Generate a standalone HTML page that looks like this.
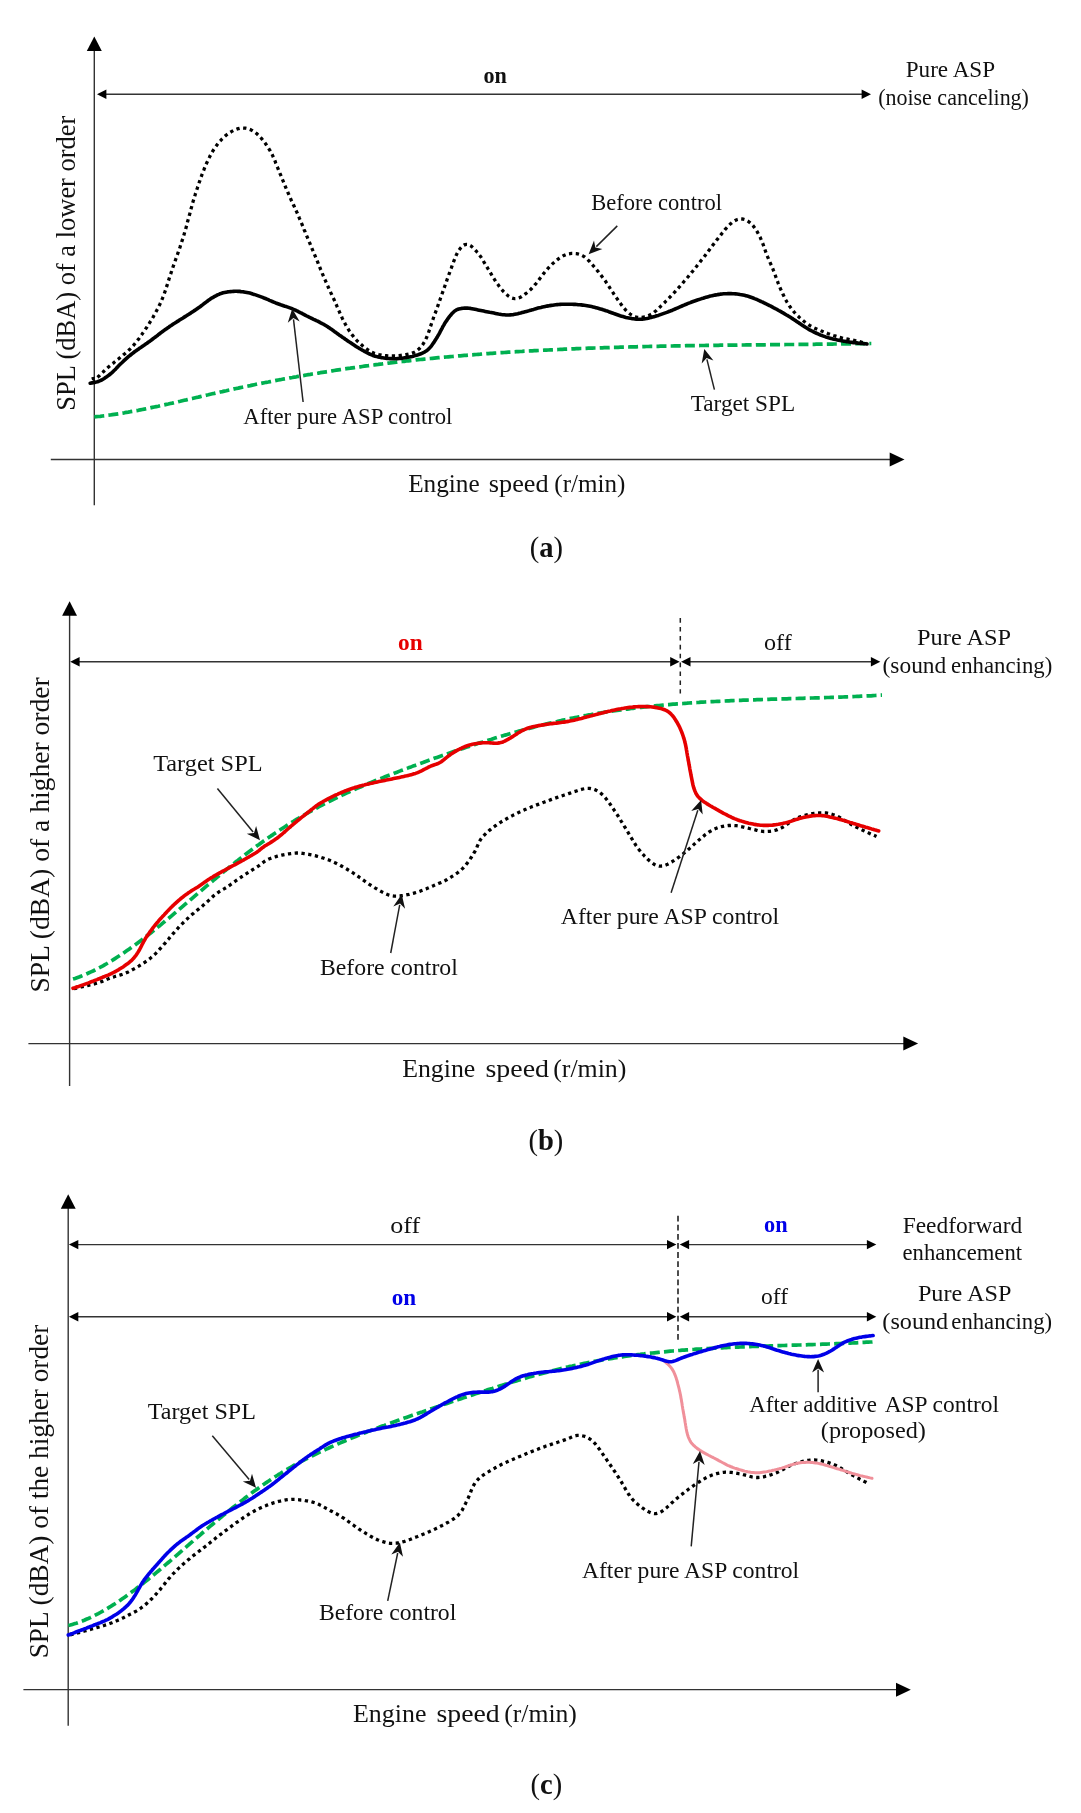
<!DOCTYPE html>
<html><head><meta charset="utf-8"><title>Figure</title>
<style>
html,body{margin:0;padding:0;background:#fff;}
body{width:1081px;height:1813px;overflow:hidden;}
#fig{will-change:transform;}
svg{display:block;font-family:"Liberation Serif", serif;}
</style></head><body>
<div id="fig"><svg width="1081" height="1813" viewBox="0 0 1081 1813">
<rect width="1081" height="1813" fill="#fff"/>
<line x1="94.3" y1="48.0" x2="94.3" y2="505.3" stroke="#333" stroke-width="1.40" />
<polygon points="94.3,36.4 86.8,51.0 101.8,51.0" fill="#000"/>
<line x1="50.8" y1="459.5" x2="892.0" y2="459.5" stroke="#333" stroke-width="1.40" />
<polygon points="904.5,459.5 889.7,452.5 889.7,466.5" fill="#000"/>
<line x1="100.0" y1="94.2" x2="868.0" y2="94.2" stroke="#333" stroke-width="1.40" />
<polygon points="97.0,94.2 106.4,89.5 106.4,98.9" fill="#000"/>
<polygon points="871.0,94.2 861.6,89.5 861.6,98.9" fill="#000"/>
<text x="483.56" y="82.90" font-size="22.30" fill="#111" font-weight="bold" textLength="23.38" lengthAdjust="spacingAndGlyphs">on</text>
<text x="905.73" y="77.40" font-size="22.30" fill="#111" font-weight="normal" textLength="89.40" lengthAdjust="spacingAndGlyphs">Pure ASP</text>
<text x="878.13" y="104.50" font-size="22.30" fill="#111" font-weight="normal" textLength="150.83" lengthAdjust="spacingAndGlyphs">(noise canceling)</text>
<g transform="translate(75.40 408.90) rotate(-90)"><text x="-1.77" y="0" font-size="26.50" fill="#111" textLength="295.01" lengthAdjust="spacingAndGlyphs">SPL (dBA) of a lower order</text></g>
<text x="408.17" y="492.20" font-size="25.30" fill="#111" font-weight="normal" textLength="71.50" lengthAdjust="spacingAndGlyphs">Engine</text>
<text x="488.82" y="492.20" font-size="25.30" fill="#111" font-weight="normal" textLength="59.79" lengthAdjust="spacingAndGlyphs">speed</text>
<text x="554.30" y="492.20" font-size="25.30" fill="#111" font-weight="normal" textLength="70.99" lengthAdjust="spacingAndGlyphs">(r/min)</text>
<path d="M94.3 416.9 L96.3 416.7 L98.3 416.5 L100.3 416.3 L102.3 416.0 L104.3 415.8 L106.3 415.5 L108.3 415.2 L110.3 415.0 L112.3 414.7 L114.3 414.4 L116.3 414.1 L118.3 413.8 L120.3 413.4 L122.3 413.1 L124.3 412.8 L126.3 412.4 L128.3 412.1 L130.3 411.7 L132.3 411.4 L134.3 411.0 L136.3 410.6 L138.3 410.3 L140.3 409.9 L142.3 409.5 L144.3 409.1 L146.3 408.7 L148.3 408.3 L150.3 407.9 L152.3 407.4 L154.3 407.0 L156.3 406.6 L158.3 406.2 L160.3 405.7 L162.3 405.3 L164.3 404.9 L166.3 404.4 L168.3 404.0 L170.3 403.5 L172.3 403.1 L174.3 402.6 L176.3 402.2 L178.3 401.7 L180.3 401.3 L182.3 400.8 L184.3 400.3 L186.3 399.9 L188.3 399.4 L190.3 398.9 L192.3 398.5 L194.3 398.0 L196.3 397.5 L198.3 397.1 L200.3 396.6 L202.3 396.1 L204.3 395.7 L206.3 395.2 L208.3 394.8 L210.3 394.3 L212.3 393.8 L214.3 393.4 L216.3 392.9 L218.3 392.5 L220.3 392.0 L222.3 391.6 L224.3 391.1 L226.3 390.7 L228.3 390.2 L230.3 389.8 L232.3 389.4 L234.3 388.9 L236.3 388.5 L238.3 388.1 L240.3 387.6 L242.3 387.2 L244.3 386.8 L246.3 386.4 L248.3 386.0 L250.3 385.6 L252.3 385.1 L254.3 384.7 L256.3 384.3 L258.3 383.9 L260.3 383.5 L262.3 383.1 L264.3 382.7 L266.3 382.3 L268.3 382.0 L270.3 381.6 L272.3 381.2 L274.3 380.8 L276.3 380.4 L278.3 380.0 L280.3 379.7 L282.3 379.3 L284.3 378.9 L286.3 378.6 L288.3 378.2 L290.3 377.8 L292.3 377.5 L294.3 377.1 L296.3 376.8 L298.3 376.4 L300.3 376.1 L302.3 375.7 L304.3 375.4 L306.3 375.0 L308.3 374.7 L310.3 374.4 L312.3 374.0 L314.3 373.7 L316.3 373.4 L318.3 373.1 L320.3 372.7 L322.3 372.4 L324.3 372.1 L326.3 371.8 L328.3 371.5 L330.3 371.1 L332.3 370.8 L334.3 370.5 L336.3 370.2 L338.3 369.9 L340.3 369.6 L342.3 369.3 L344.3 369.0 L346.3 368.7 L348.3 368.4 L350.3 368.2 L352.3 367.9 L354.3 367.6 L356.3 367.3 L358.3 367.0 L360.3 366.8 L362.3 366.5 L364.3 366.2 L366.3 365.9 L368.3 365.7 L370.3 365.4 L372.3 365.1 L374.3 364.9 L376.3 364.6 L378.3 364.4 L380.3 364.1 L382.3 363.9 L384.3 363.6 L386.3 363.4 L388.3 363.1 L390.3 362.9 L392.3 362.6 L394.3 362.4 L396.3 362.2 L398.3 361.9 L400.3 361.7 L402.3 361.5 L404.3 361.3 L406.3 361.0 L408.3 360.8 L410.3 360.6 L412.3 360.4 L414.3 360.2 L416.3 359.9 L418.3 359.7 L420.3 359.5 L422.3 359.3 L424.3 359.1 L426.3 358.9 L428.3 358.7 L430.3 358.5 L432.3 358.3 L434.3 358.1 L436.3 357.9 L438.3 357.7 L440.3 357.5 L442.3 357.4 L444.3 357.2 L446.3 357.0 L448.3 356.8 L450.3 356.6 L452.3 356.5 L454.3 356.3 L456.3 356.1 L458.3 355.9 L460.3 355.8 L462.3 355.6 L464.3 355.4 L466.3 355.3 L468.3 355.1 L470.3 354.9 L472.3 354.8 L474.3 354.6 L476.3 354.5 L478.3 354.3 L480.3 354.2 L482.3 354.0 L484.3 353.9 L486.3 353.7 L488.3 353.6 L490.3 353.4 L492.3 353.3 L494.3 353.1 L496.3 353.0 L498.3 352.9 L500.3 352.7 L502.3 352.6 L504.3 352.5 L506.3 352.3 L508.3 352.2 L510.3 352.1 L512.3 352.0 L514.3 351.8 L516.3 351.7 L518.3 351.6 L520.3 351.5 L522.3 351.4 L524.3 351.2 L526.3 351.1 L528.3 351.0 L530.3 350.9 L532.3 350.8 L534.3 350.7 L536.3 350.6 L538.3 350.5 L540.3 350.4 L542.3 350.3 L544.3 350.2 L546.3 350.1 L548.3 350.0 L550.3 349.9 L552.3 349.8 L554.3 349.7 L556.3 349.6 L558.3 349.5 L560.3 349.4 L562.3 349.3 L564.3 349.2 L566.3 349.1 L568.3 349.0 L570.3 349.0 L572.3 348.9 L574.3 348.8 L576.3 348.7 L578.3 348.6 L580.3 348.5 L582.3 348.5 L584.3 348.4 L586.3 348.3 L588.3 348.2 L590.3 348.2 L592.3 348.1 L594.3 348.0 L596.3 348.0 L598.3 347.9 L600.3 347.8 L602.3 347.8 L604.3 347.7 L606.3 347.6 L608.3 347.6 L610.3 347.5 L612.3 347.4 L614.3 347.4 L616.3 347.3 L618.3 347.3 L620.3 347.2 L622.3 347.1 L624.3 347.1 L626.3 347.0 L628.3 347.0 L630.3 346.9 L632.3 346.9 L634.3 346.8 L636.3 346.8 L638.3 346.7 L640.3 346.7 L642.3 346.6 L644.3 346.6 L646.3 346.5 L648.3 346.5 L650.3 346.4 L652.3 346.4 L654.3 346.3 L656.3 346.3 L658.3 346.3 L660.3 346.2 L662.3 346.2 L664.3 346.1 L666.3 346.1 L668.3 346.1 L670.3 346.0 L672.3 346.0 L674.3 345.9 L676.3 345.9 L678.3 345.9 L680.3 345.8 L682.3 345.8 L684.3 345.8 L686.3 345.7 L688.3 345.7 L690.3 345.7 L692.3 345.6 L694.3 345.6 L696.3 345.6 L698.3 345.6 L700.3 345.5 L702.3 345.5 L704.3 345.5 L706.3 345.4 L708.3 345.4 L710.3 345.4 L712.3 345.4 L714.3 345.3 L716.3 345.3 L718.3 345.3 L720.3 345.2 L722.3 345.2 L724.3 345.2 L726.3 345.2 L728.3 345.1 L730.3 345.1 L732.3 345.1 L734.3 345.1 L736.3 345.1 L738.3 345.0 L740.3 345.0 L742.3 345.0 L744.3 345.0 L746.3 344.9 L748.3 344.9 L750.3 344.9 L752.3 344.9 L754.3 344.9 L756.3 344.8 L758.3 344.8 L760.3 344.8 L762.3 344.8 L764.3 344.8 L766.3 344.7 L768.3 344.7 L770.3 344.7 L772.3 344.7 L774.3 344.7 L776.3 344.6 L778.3 344.6 L780.3 344.6 L782.3 344.6 L784.3 344.6 L786.3 344.5 L788.3 344.5 L790.3 344.5 L792.3 344.5 L794.3 344.5 L796.3 344.4 L798.3 344.4 L800.3 344.4 L802.3 344.4 L804.3 344.4 L806.3 344.3 L808.3 344.3 L810.3 344.3 L812.3 344.3 L814.3 344.3 L816.3 344.2 L818.3 344.2 L820.3 344.2 L822.3 344.2 L824.3 344.1 L826.3 344.1 L828.3 344.1 L830.3 344.1 L832.3 344.1 L834.3 344.0 L836.3 344.0 L838.3 344.0 L840.3 344.0 L842.3 343.9 L844.3 343.9 L846.3 343.9 L848.3 343.9 L850.3 343.8 L852.3 343.8 L854.3 343.8 L856.3 343.7 L858.3 343.7 L860.3 343.7 L862.3 343.7 L864.3 343.6 L866.3 343.6 L868.3 343.6 L870.3 343.5 L871.3 343.5" fill="none" stroke="#00b050" stroke-width="3.70" stroke-linecap="butt" stroke-linejoin="round" stroke-dasharray="10 4.2"/>
<path d="M90.2 383.2 L92.0 382.9 L93.2 382.7 L94.7 382.4 L96.1 382.1 L97.5 381.7 L98.9 381.2 L100.3 380.6 L101.7 380.0 L103.0 379.2 L104.2 378.5 L105.5 377.6 L106.7 376.8 L107.9 375.9 L109.1 375.0 L110.3 374.0 L111.4 373.1 L112.6 372.1 L113.6 371.0 L114.7 370.0 L115.8 368.9 L116.8 367.8 L117.8 366.7 L118.9 365.6 L119.9 364.6 L121.0 363.5 L122.1 362.5 L123.2 361.4 L124.3 360.4 L125.4 359.4 L126.5 358.4 L127.6 357.4 L128.7 356.4 L129.9 355.5 L131.1 354.5 L132.2 353.6 L133.4 352.7 L134.6 351.8 L135.8 350.9 L137.1 350.0 L138.3 349.2 L139.5 348.3 L140.8 347.5 L142.0 346.6 L143.3 345.8 L144.5 344.9 L145.7 344.1 L147.0 343.2 L148.2 342.3 L149.4 341.5 L150.6 340.6 L151.8 339.7 L153.0 338.8 L154.2 337.9 L155.4 337.0 L156.6 336.1 L157.8 335.2 L159.0 334.2 L160.2 333.3 L161.4 332.4 L162.6 331.5 L163.8 330.6 L165.0 329.8 L166.2 328.9 L167.5 328.0 L168.7 327.2 L169.9 326.3 L171.2 325.5 L172.4 324.6 L173.7 323.8 L175.0 323.0 L176.2 322.2 L177.5 321.4 L178.8 320.6 L180.0 319.8 L181.3 319.0 L182.6 318.2 L183.8 317.4 L185.1 316.6 L186.4 315.8 L187.6 315.0 L188.9 314.2 L190.2 313.4 L191.4 312.6 L192.7 311.7 L193.9 310.9 L195.2 310.1 L196.4 309.2 L197.7 308.4 L198.9 307.5 L200.1 306.7 L201.3 305.8 L202.5 304.9 L203.7 303.9 L204.9 303.0 L206.1 302.1 L207.3 301.2 L208.5 300.3 L209.7 299.5 L211.0 298.6 L212.2 297.8 L213.5 297.1 L214.8 296.3 L216.2 295.6 L217.5 294.9 L218.9 294.3 L220.2 293.7 L221.7 293.3 L223.1 292.8 L224.6 292.5 L226.0 292.2 L227.5 291.9 L229.0 291.7 L230.5 291.6 L232.0 291.5 L233.5 291.4 L235.0 291.3 L236.5 291.3 L238.0 291.4 L239.5 291.4 L241.0 291.6 L242.5 291.7 L243.9 291.9 L245.4 292.2 L246.9 292.5 L248.4 292.8 L249.8 293.1 L251.3 293.5 L252.7 294.0 L254.1 294.4 L255.6 294.9 L257.0 295.4 L258.4 295.9 L259.8 296.4 L261.2 296.9 L262.6 297.4 L264.0 298.0 L265.4 298.5 L266.8 299.1 L268.2 299.7 L269.5 300.3 L270.9 300.9 L272.3 301.5 L273.7 302.1 L275.1 302.7 L276.5 303.3 L277.9 303.8 L279.3 304.3 L280.7 304.8 L282.1 305.2 L283.5 305.7 L285.0 306.2 L286.4 306.6 L287.8 307.1 L289.2 307.6 L290.6 308.1 L292.0 308.7 L293.4 309.3 L294.8 309.9 L296.1 310.5 L297.5 311.2 L298.8 311.9 L300.2 312.6 L301.5 313.2 L302.8 313.9 L304.2 314.6 L305.5 315.3 L306.8 316.0 L308.2 316.7 L309.5 317.3 L310.9 318.0 L312.2 318.6 L313.6 319.3 L314.9 319.9 L316.3 320.6 L317.7 321.2 L319.0 321.9 L320.3 322.6 L321.7 323.3 L323.0 324.0 L324.3 324.7 L325.6 325.5 L326.9 326.3 L328.1 327.1 L329.4 327.9 L330.6 328.8 L331.8 329.6 L333.1 330.5 L334.3 331.4 L335.5 332.2 L336.7 333.1 L337.9 334.0 L339.1 334.9 L340.4 335.8 L341.6 336.6 L342.8 337.5 L344.1 338.3 L345.3 339.2 L346.5 340.0 L347.8 340.9 L349.0 341.7 L350.3 342.5 L351.5 343.4 L352.8 344.2 L354.0 345.0 L355.3 345.9 L356.5 346.7 L357.8 347.5 L359.1 348.3 L360.4 349.0 L361.7 349.8 L363.0 350.5 L364.3 351.3 L365.6 352.0 L366.9 352.7 L368.3 353.4 L369.6 354.0 L371.0 354.6 L372.4 355.2 L373.8 355.7 L375.2 356.2 L376.7 356.6 L378.1 356.9 L379.6 357.3 L381.0 357.6 L382.5 357.8 L384.0 358.0 L385.5 358.2 L387.0 358.4 L388.5 358.5 L390.0 358.6 L391.5 358.6 L393.0 358.7 L394.5 358.7 L396.0 358.7 L397.5 358.6 L399.0 358.5 L400.5 358.4 L402.0 358.2 L403.5 358.0 L404.9 357.8 L406.4 357.6 L407.9 357.3 L409.4 357.0 L410.8 356.7 L412.3 356.4 L413.8 356.0 L415.2 355.6 L416.7 355.2 L418.1 354.8 L419.5 354.3 L420.9 353.8 L422.3 353.2 L423.6 352.5 L424.9 351.8 L426.2 351.0 L427.4 350.1 L428.5 349.1 L429.6 348.0 L430.6 346.9 L431.5 345.8 L432.4 344.5 L433.2 343.3 L434.1 342.1 L434.9 340.8 L435.7 339.5 L436.5 338.3 L437.3 337.0 L438.0 335.7 L438.8 334.4 L439.5 333.1 L440.2 331.7 L440.9 330.4 L441.6 329.1 L442.3 327.8 L443.0 326.4 L443.8 325.1 L444.5 323.8 L445.3 322.6 L446.1 321.3 L447.0 320.1 L447.8 318.8 L448.7 317.6 L449.6 316.4 L450.6 315.3 L451.5 314.1 L452.6 313.0 L453.6 312.0 L454.7 311.0 L456.0 310.2 L457.3 309.5 L458.7 309.0 L460.1 308.7 L461.6 308.4 L463.1 308.2 L464.5 308.1 L466.0 308.0 L467.5 308.1 L469.0 308.2 L470.5 308.4 L472.0 308.7 L473.5 309.0 L474.9 309.3 L476.4 309.6 L477.9 309.9 L479.3 310.2 L480.8 310.5 L482.3 310.8 L483.7 311.1 L485.2 311.4 L486.7 311.7 L488.2 312.0 L489.6 312.3 L491.1 312.5 L492.6 312.8 L494.0 313.1 L495.5 313.4 L497.0 313.7 L498.5 314.0 L499.9 314.2 L501.4 314.5 L502.9 314.7 L504.4 314.8 L505.9 315.0 L507.4 315.0 L508.9 315.0 L510.4 314.9 L511.9 314.8 L513.4 314.6 L514.8 314.3 L516.3 314.0 L517.8 313.7 L519.2 313.3 L520.7 313.0 L522.1 312.6 L523.6 312.2 L525.0 311.8 L526.5 311.4 L527.9 311.1 L529.4 310.6 L530.8 310.2 L532.3 309.8 L533.7 309.4 L535.1 308.9 L536.6 308.5 L538.0 308.1 L539.5 307.7 L540.9 307.4 L542.4 307.0 L543.9 306.7 L545.3 306.4 L546.8 306.1 L548.3 305.9 L549.8 305.6 L551.3 305.4 L552.7 305.2 L554.2 305.0 L555.7 304.8 L557.2 304.6 L558.7 304.5 L560.2 304.4 L561.7 304.3 L563.2 304.2 L564.7 304.2 L566.2 304.2 L567.7 304.2 L569.2 304.2 L570.7 304.2 L572.2 304.3 L573.7 304.4 L575.2 304.4 L576.7 304.5 L578.2 304.7 L579.7 304.8 L581.2 304.9 L582.7 305.1 L584.2 305.3 L585.7 305.5 L587.1 305.7 L588.6 306.0 L590.1 306.3 L591.6 306.6 L593.0 306.9 L594.5 307.3 L595.9 307.7 L597.4 308.1 L598.8 308.5 L600.3 308.9 L601.7 309.3 L603.1 309.8 L604.6 310.2 L606.0 310.7 L607.4 311.1 L608.8 311.7 L610.2 312.2 L611.6 312.7 L613.1 313.2 L614.5 313.8 L615.9 314.3 L617.3 314.8 L618.7 315.3 L620.1 315.8 L621.5 316.2 L623.0 316.6 L624.4 317.0 L625.9 317.4 L627.4 317.7 L628.8 318.0 L630.3 318.3 L631.8 318.6 L633.3 318.8 L634.8 319.0 L636.2 319.1 L637.7 319.2 L639.2 319.2 L640.7 319.2 L642.2 319.1 L643.7 319.0 L645.2 318.7 L646.7 318.5 L648.2 318.2 L649.6 317.8 L651.1 317.5 L652.5 317.1 L654.0 316.7 L655.4 316.3 L656.8 315.8 L658.3 315.4 L659.7 314.9 L661.1 314.4 L662.5 313.9 L663.9 313.4 L665.4 312.9 L666.8 312.4 L668.2 311.8 L669.6 311.3 L671.0 310.7 L672.4 310.2 L673.7 309.6 L675.1 309.0 L676.5 308.4 L677.9 307.8 L679.3 307.2 L680.6 306.6 L682.0 306.0 L683.4 305.4 L684.8 304.8 L686.2 304.3 L687.5 303.7 L688.9 303.1 L690.3 302.6 L691.7 302.0 L693.1 301.5 L694.6 301.0 L696.0 300.5 L697.4 300.0 L698.8 299.6 L700.2 299.1 L701.7 298.6 L703.1 298.2 L704.5 297.7 L706.0 297.3 L707.4 296.9 L708.9 296.5 L710.3 296.1 L711.8 295.8 L713.2 295.4 L714.7 295.1 L716.2 294.9 L717.7 294.6 L719.1 294.4 L720.6 294.1 L722.1 294.0 L723.6 293.8 L725.1 293.7 L726.6 293.7 L728.1 293.6 L729.6 293.6 L731.1 293.6 L732.6 293.7 L734.1 293.8 L735.6 293.9 L737.1 294.0 L738.6 294.2 L740.1 294.5 L741.5 294.7 L743.0 295.0 L744.5 295.3 L745.9 295.7 L747.4 296.1 L748.8 296.5 L750.2 297.0 L751.7 297.5 L753.1 298.0 L754.5 298.6 L755.9 299.1 L757.2 299.7 L758.6 300.3 L760.0 301.0 L761.3 301.6 L762.7 302.2 L764.0 302.9 L765.4 303.5 L766.7 304.2 L768.1 304.9 L769.4 305.5 L770.8 306.2 L772.1 306.9 L773.4 307.6 L774.8 308.3 L776.1 309.0 L777.4 309.7 L778.7 310.5 L780.0 311.2 L781.3 311.9 L782.6 312.7 L783.9 313.4 L785.2 314.2 L786.5 315.0 L787.8 315.7 L789.1 316.5 L790.4 317.3 L791.6 318.1 L792.9 318.9 L794.1 319.7 L795.4 320.6 L796.6 321.4 L797.9 322.3 L799.1 323.1 L800.4 323.9 L801.6 324.8 L802.9 325.6 L804.1 326.4 L805.4 327.2 L806.7 328.0 L807.9 328.8 L809.2 329.6 L810.6 330.3 L811.9 331.0 L813.2 331.7 L814.5 332.4 L815.9 333.0 L817.3 333.6 L818.6 334.2 L820.0 334.8 L821.4 335.4 L822.8 335.9 L824.2 336.4 L825.7 336.9 L827.1 337.3 L828.5 337.8 L830.0 338.2 L831.4 338.6 L832.9 338.9 L834.3 339.3 L835.8 339.6 L837.3 339.9 L838.7 340.2 L840.2 340.5 L841.7 340.8 L843.2 341.1 L844.6 341.3 L846.1 341.6 L847.6 341.8 L849.1 342.0 L850.6 342.2 L852.1 342.4 L853.6 342.6 L855.1 342.7 L856.5 342.9 L858.0 343.1 L859.5 343.2 L861.0 343.4 L862.5 343.5 L863.9 343.7 L865.2 343.8 L867.0 344.0" fill="none" stroke="#000" stroke-width="3.60" stroke-linecap="round" stroke-linejoin="round"/>
<path d="M93.0 377.0 L93.2 378.5 L93.6 379.1 L94.4 379.3 L95.4 379.0 L96.5 378.2 L97.6 377.3 L98.7 376.2 L99.8 375.2 L100.8 374.1 L101.9 373.1 L103.0 372.1 L104.1 371.0 L105.2 370.0 L106.3 369.0 L107.4 368.0 L108.5 367.0 L109.7 366.0 L110.8 365.1 L112.0 364.1 L113.2 363.2 L114.3 362.2 L115.5 361.3 L116.7 360.4 L117.8 359.4 L119.0 358.5 L120.2 357.5 L121.3 356.6 L122.5 355.6 L123.6 354.6 L124.8 353.7 L125.9 352.7 L127.0 351.7 L128.2 350.7 L129.3 349.7 L130.4 348.7 L131.4 347.6 L132.5 346.5 L133.5 345.4 L134.4 344.3 L135.4 343.1 L136.3 342.0 L137.3 340.8 L138.2 339.6 L139.1 338.4 L139.9 337.2 L140.8 335.9 L141.7 334.7 L142.5 333.5 L143.4 332.3 L144.2 331.0 L145.1 329.8 L145.9 328.5 L146.8 327.3 L147.6 326.0 L148.4 324.8 L149.2 323.5 L150.0 322.2 L150.8 321.0 L151.6 319.7 L152.3 318.4 L153.1 317.1 L153.8 315.8 L154.5 314.5 L155.3 313.1 L156.0 311.8 L156.7 310.5 L157.4 309.2 L158.1 307.9 L158.8 306.5 L159.4 305.2 L160.1 303.8 L160.7 302.5 L161.3 301.1 L161.9 299.7 L162.5 298.3 L163.0 296.9 L163.6 295.5 L164.1 294.1 L164.6 292.7 L165.1 291.3 L165.6 289.9 L166.0 288.4 L166.5 287.0 L167.0 285.6 L167.4 284.2 L167.9 282.7 L168.3 281.3 L168.8 279.9 L169.2 278.4 L169.7 277.0 L170.2 275.6 L170.6 274.2 L171.1 272.7 L171.6 271.3 L172.0 269.9 L172.5 268.5 L173.0 267.0 L173.5 265.6 L174.0 264.2 L174.5 262.8 L175.0 261.4 L175.5 260.0 L176.0 258.5 L176.5 257.1 L177.0 255.7 L177.5 254.3 L178.0 252.9 L178.5 251.5 L179.0 250.0 L179.5 248.6 L180.0 247.2 L180.4 245.8 L180.9 244.4 L181.4 242.9 L181.8 241.5 L182.3 240.1 L182.8 238.7 L183.2 237.2 L183.7 235.8 L184.1 234.4 L184.5 232.9 L184.9 231.5 L185.3 230.0 L185.8 228.6 L186.2 227.1 L186.6 225.7 L187.0 224.2 L187.3 222.8 L187.7 221.3 L188.1 219.9 L188.5 218.4 L188.9 217.0 L189.3 215.5 L189.7 214.1 L190.1 212.6 L190.4 211.2 L190.8 209.8 L191.2 208.3 L191.6 206.9 L192.0 205.4 L192.4 204.0 L192.8 202.5 L193.2 201.1 L193.7 199.6 L194.1 198.2 L194.5 196.8 L195.0 195.3 L195.4 193.9 L195.9 192.5 L196.3 191.0 L196.8 189.6 L197.3 188.2 L197.7 186.8 L198.2 185.3 L198.7 183.9 L199.2 182.5 L199.7 181.1 L200.2 179.7 L200.7 178.3 L201.2 176.8 L201.7 175.4 L202.2 174.0 L202.8 172.6 L203.3 171.2 L203.9 169.8 L204.4 168.4 L205.0 167.0 L205.5 165.7 L206.1 164.3 L206.7 162.9 L207.4 161.5 L208.0 160.2 L208.6 158.8 L209.3 157.5 L210.0 156.1 L210.7 154.8 L211.4 153.5 L212.1 152.2 L212.9 150.9 L213.7 149.6 L214.5 148.4 L215.3 147.1 L216.2 145.9 L217.1 144.7 L218.0 143.5 L219.0 142.3 L219.9 141.2 L221.0 140.1 L222.0 139.0 L223.1 138.0 L224.2 136.9 L225.3 135.9 L226.4 135.0 L227.6 134.1 L228.8 133.2 L230.1 132.4 L231.4 131.6 L232.7 130.9 L234.0 130.2 L235.4 129.6 L236.8 129.1 L238.2 128.7 L239.7 128.3 L241.2 128.1 L242.7 128.0 L244.1 128.1 L245.6 128.2 L247.1 128.5 L248.5 128.9 L249.9 129.4 L251.3 130.1 L252.6 130.8 L253.9 131.6 L255.1 132.4 L256.3 133.3 L257.4 134.3 L258.5 135.3 L259.6 136.4 L260.6 137.5 L261.6 138.6 L262.5 139.7 L263.5 140.9 L264.4 142.1 L265.3 143.3 L266.1 144.5 L267.0 145.8 L267.8 147.0 L268.6 148.3 L269.4 149.6 L270.2 150.9 L270.9 152.2 L271.6 153.5 L272.3 154.8 L272.9 156.2 L273.5 157.6 L274.1 158.9 L274.7 160.3 L275.3 161.7 L275.8 163.1 L276.4 164.5 L276.9 165.9 L277.5 167.3 L278.0 168.7 L278.6 170.1 L279.2 171.5 L279.7 172.9 L280.3 174.2 L280.9 175.6 L281.5 177.0 L282.0 178.4 L282.6 179.8 L283.2 181.2 L283.7 182.6 L284.3 184.0 L284.9 185.3 L285.4 186.7 L286.0 188.1 L286.6 189.5 L287.2 190.9 L287.8 192.3 L288.4 193.6 L289.0 195.0 L289.6 196.4 L290.2 197.8 L290.8 199.1 L291.4 200.5 L292.1 201.9 L292.7 203.2 L293.3 204.6 L294.0 205.9 L294.6 207.3 L295.2 208.7 L295.8 210.0 L296.5 211.4 L297.1 212.8 L297.7 214.1 L298.3 215.5 L298.9 216.9 L299.4 218.3 L300.0 219.7 L300.6 221.0 L301.2 222.4 L301.8 223.8 L302.3 225.2 L302.9 226.6 L303.5 228.0 L304.0 229.4 L304.6 230.8 L305.2 232.1 L305.7 233.5 L306.3 234.9 L306.9 236.3 L307.5 237.7 L308.0 239.1 L308.6 240.5 L309.2 241.8 L309.8 243.2 L310.4 244.6 L310.9 246.0 L311.5 247.4 L312.1 248.8 L312.7 250.2 L313.3 251.5 L313.8 252.9 L314.4 254.3 L315.0 255.7 L315.6 257.1 L316.2 258.5 L316.7 259.8 L317.3 261.2 L317.9 262.6 L318.4 264.0 L319.0 265.4 L319.6 266.8 L320.1 268.2 L320.7 269.6 L321.3 271.0 L321.9 272.3 L322.4 273.7 L323.0 275.1 L323.6 276.5 L324.2 277.9 L324.8 279.3 L325.4 280.6 L326.0 282.0 L326.6 283.4 L327.2 284.8 L327.8 286.1 L328.4 287.5 L329.0 288.9 L329.7 290.2 L330.3 291.6 L330.9 292.9 L331.6 294.3 L332.2 295.7 L332.8 297.0 L333.5 298.4 L334.1 299.7 L334.7 301.1 L335.3 302.5 L335.9 303.8 L336.5 305.2 L337.1 306.6 L337.7 308.0 L338.3 309.4 L338.9 310.7 L339.5 312.1 L340.1 313.5 L340.7 314.9 L341.4 316.2 L342.0 317.6 L342.6 318.9 L343.3 320.3 L344.0 321.6 L344.7 322.9 L345.4 324.3 L346.1 325.6 L346.9 326.9 L347.7 328.1 L348.4 329.4 L349.2 330.7 L350.1 331.9 L350.9 333.2 L351.8 334.4 L352.7 335.6 L353.6 336.8 L354.5 338.0 L355.5 339.1 L356.5 340.2 L357.6 341.3 L358.7 342.3 L359.8 343.3 L360.9 344.3 L362.0 345.3 L363.2 346.3 L364.4 347.2 L365.5 348.1 L366.7 349.0 L367.9 349.9 L369.2 350.7 L370.5 351.5 L371.8 352.2 L373.2 352.8 L374.6 353.4 L376.0 353.8 L377.4 354.2 L378.9 354.6 L380.3 354.9 L381.8 355.2 L383.3 355.4 L384.8 355.6 L386.3 355.7 L387.8 355.8 L389.3 355.9 L390.8 356.0 L392.3 356.0 L393.8 355.9 L395.3 355.9 L396.8 355.8 L398.3 355.6 L399.8 355.5 L401.2 355.3 L402.7 355.1 L404.2 354.8 L405.7 354.6 L407.2 354.3 L408.6 354.0 L410.1 353.7 L411.5 353.3 L412.9 352.8 L414.3 352.2 L415.6 351.5 L416.9 350.7 L418.0 349.8 L419.2 348.8 L420.2 347.7 L421.2 346.6 L422.1 345.4 L423.0 344.2 L423.8 342.9 L424.6 341.6 L425.3 340.3 L425.9 339.0 L426.6 337.6 L427.1 336.2 L427.7 334.8 L428.2 333.4 L428.7 332.0 L429.2 330.6 L429.7 329.2 L430.1 327.7 L430.6 326.3 L431.1 324.9 L431.5 323.5 L432.0 322.1 L432.5 320.6 L433.0 319.2 L433.5 317.8 L434.0 316.4 L434.5 315.0 L435.0 313.6 L435.6 312.2 L436.1 310.7 L436.6 309.3 L437.1 307.9 L437.6 306.5 L438.1 305.1 L438.6 303.7 L439.1 302.3 L439.6 300.9 L440.1 299.4 L440.6 298.0 L441.1 296.6 L441.6 295.2 L442.1 293.8 L442.6 292.4 L443.1 291.0 L443.6 289.6 L444.1 288.1 L444.6 286.7 L445.1 285.3 L445.6 283.9 L446.1 282.5 L446.6 281.1 L447.1 279.6 L447.6 278.2 L448.1 276.8 L448.6 275.4 L449.1 274.0 L449.6 272.6 L450.1 271.2 L450.6 269.7 L451.2 268.3 L451.7 266.9 L452.2 265.5 L452.7 264.1 L453.3 262.7 L453.8 261.3 L454.3 259.9 L454.9 258.5 L455.4 257.1 L456.0 255.7 L456.6 254.4 L457.3 253.0 L458.0 251.7 L458.8 250.5 L459.7 249.2 L460.6 248.0 L461.6 246.9 L462.7 246.0 L463.9 245.1 L465.2 244.6 L466.6 244.4 L468.0 244.5 L469.3 245.0 L470.6 245.7 L471.8 246.6 L472.9 247.6 L474.0 248.6 L475.0 249.7 L476.0 250.8 L477.0 252.0 L478.0 253.1 L478.9 254.3 L479.8 255.5 L480.7 256.7 L481.5 257.9 L482.3 259.2 L483.1 260.5 L483.8 261.8 L484.6 263.1 L485.4 264.4 L486.1 265.7 L486.9 267.0 L487.7 268.2 L488.4 269.5 L489.2 270.8 L490.0 272.1 L490.8 273.4 L491.5 274.7 L492.3 276.0 L493.1 277.2 L493.9 278.5 L494.7 279.8 L495.5 281.0 L496.3 282.3 L497.2 283.5 L498.1 284.7 L498.9 285.9 L499.8 287.1 L500.8 288.3 L501.7 289.5 L502.7 290.6 L503.7 291.8 L504.7 292.8 L505.8 293.9 L506.9 294.8 L508.1 295.8 L509.4 296.6 L510.6 297.4 L512.0 298.0 L513.4 298.4 L514.8 298.7 L516.3 298.6 L517.7 298.4 L519.1 297.9 L520.4 297.2 L521.7 296.5 L522.9 295.7 L524.2 294.8 L525.4 293.9 L526.6 293.0 L527.7 292.1 L528.9 291.1 L530.0 290.1 L531.1 289.0 L532.1 288.0 L533.1 286.9 L534.2 285.8 L535.1 284.6 L536.1 283.5 L537.0 282.3 L537.9 281.1 L538.8 279.9 L539.7 278.7 L540.6 277.5 L541.5 276.3 L542.4 275.1 L543.4 273.9 L544.3 272.8 L545.3 271.6 L546.3 270.5 L547.2 269.3 L548.2 268.2 L549.2 267.1 L550.3 266.0 L551.3 265.0 L552.4 263.9 L553.5 262.9 L554.7 261.9 L555.8 261.0 L557.0 260.0 L558.1 259.1 L559.4 258.2 L560.6 257.4 L561.9 256.6 L563.2 255.8 L564.5 255.2 L565.9 254.6 L567.3 254.2 L568.8 253.8 L570.2 253.6 L571.7 253.4 L573.2 253.4 L574.7 253.5 L576.2 253.6 L577.7 253.9 L579.1 254.3 L580.5 254.8 L581.9 255.4 L583.2 256.1 L584.5 256.9 L585.6 257.8 L586.8 258.7 L587.9 259.8 L588.9 260.8 L589.9 261.9 L590.9 263.1 L591.9 264.2 L592.9 265.3 L593.9 266.5 L594.8 267.6 L595.8 268.8 L596.8 269.9 L597.7 271.1 L598.7 272.2 L599.6 273.4 L600.5 274.6 L601.4 275.8 L602.3 277.0 L603.2 278.2 L604.1 279.4 L605.0 280.6 L605.9 281.8 L606.7 283.1 L607.5 284.3 L608.4 285.6 L609.2 286.8 L610.0 288.1 L610.8 289.3 L611.6 290.6 L612.5 291.9 L613.3 293.1 L614.1 294.4 L615.0 295.6 L615.8 296.8 L616.7 298.1 L617.5 299.3 L618.4 300.5 L619.2 301.8 L620.1 303.0 L621.0 304.2 L621.9 305.4 L622.8 306.6 L623.7 307.8 L624.7 308.9 L625.7 310.1 L626.7 311.1 L627.8 312.1 L629.0 313.1 L630.1 314.0 L631.4 314.9 L632.7 315.6 L634.0 316.3 L635.4 316.8 L636.8 317.2 L638.3 317.4 L639.8 317.5 L641.3 317.4 L642.7 317.2 L644.2 316.9 L645.6 316.5 L647.1 316.1 L648.5 315.6 L649.8 315.0 L651.2 314.3 L652.4 313.5 L653.7 312.7 L654.8 311.7 L656.0 310.8 L657.1 309.7 L658.2 308.7 L659.3 307.7 L660.4 306.6 L661.4 305.6 L662.5 304.6 L663.6 303.5 L664.7 302.5 L665.7 301.4 L666.8 300.4 L667.8 299.3 L668.9 298.2 L669.9 297.1 L671.0 296.0 L672.0 295.0 L673.0 293.9 L674.0 292.8 L675.1 291.7 L676.1 290.5 L677.1 289.4 L678.1 288.3 L679.1 287.2 L680.1 286.1 L681.1 284.9 L682.1 283.8 L683.0 282.7 L684.0 281.5 L685.0 280.4 L686.0 279.3 L686.9 278.1 L687.9 277.0 L688.9 275.8 L689.8 274.7 L690.8 273.5 L691.7 272.4 L692.7 271.2 L693.6 270.0 L694.6 268.9 L695.5 267.7 L696.5 266.5 L697.4 265.3 L698.3 264.2 L699.3 263.0 L700.2 261.8 L701.1 260.6 L702.1 259.5 L703.0 258.3 L703.9 257.1 L704.8 255.9 L705.7 254.7 L706.6 253.5 L707.5 252.3 L708.4 251.1 L709.3 249.9 L710.2 248.7 L711.1 247.5 L712.0 246.3 L712.9 245.1 L713.8 243.9 L714.7 242.7 L715.6 241.5 L716.5 240.3 L717.5 239.1 L718.4 238.0 L719.3 236.8 L720.2 235.6 L721.2 234.4 L722.1 233.2 L723.0 232.1 L724.0 230.9 L724.9 229.7 L725.9 228.6 L726.9 227.5 L727.9 226.4 L729.0 225.3 L730.0 224.3 L731.2 223.3 L732.3 222.3 L733.6 221.5 L734.8 220.7 L736.2 220.0 L737.5 219.5 L739.0 219.1 L740.4 218.9 L741.9 219.0 L743.3 219.2 L744.8 219.6 L746.1 220.2 L747.4 220.9 L748.7 221.7 L749.9 222.6 L751.0 223.6 L752.1 224.6 L753.1 225.7 L754.0 226.9 L754.9 228.1 L755.7 229.3 L756.5 230.6 L757.3 231.9 L758.0 233.2 L758.7 234.5 L759.4 235.9 L760.1 237.2 L760.7 238.6 L761.3 240.0 L761.9 241.3 L762.5 242.7 L763.0 244.1 L763.5 245.5 L764.0 247.0 L764.5 248.4 L765.0 249.8 L765.5 251.2 L766.0 252.6 L766.5 254.0 L767.1 255.4 L767.6 256.8 L768.2 258.2 L768.8 259.6 L769.4 260.9 L770.0 262.3 L770.6 263.7 L771.2 265.1 L771.8 266.4 L772.4 267.8 L773.0 269.2 L773.5 270.6 L774.1 272.0 L774.6 273.4 L775.1 274.8 L775.6 276.2 L776.1 277.6 L776.6 279.0 L777.2 280.5 L777.7 281.9 L778.2 283.3 L778.8 284.7 L779.3 286.1 L779.9 287.4 L780.5 288.8 L781.1 290.2 L781.7 291.6 L782.4 292.9 L783.0 294.3 L783.6 295.6 L784.3 297.0 L785.0 298.3 L785.6 299.7 L786.4 301.0 L787.1 302.3 L787.9 303.6 L788.7 304.8 L789.5 306.1 L790.4 307.3 L791.3 308.5 L792.2 309.7 L793.2 310.8 L794.1 312.0 L795.1 313.1 L796.1 314.2 L797.2 315.3 L798.3 316.3 L799.3 317.4 L800.4 318.4 L801.6 319.4 L802.7 320.3 L803.9 321.3 L805.1 322.2 L806.3 323.1 L807.5 323.9 L808.8 324.8 L810.0 325.6 L811.3 326.3 L812.6 327.1 L814.0 327.8 L815.3 328.4 L816.7 329.1 L818.0 329.7 L819.4 330.2 L820.8 330.8 L822.2 331.3 L823.6 331.9 L825.0 332.4 L826.4 332.9 L827.8 333.5 L829.2 334.0 L830.7 334.5 L832.1 335.0 L833.5 335.5 L834.9 335.9 L836.4 336.4 L837.8 336.8 L839.2 337.2 L840.7 337.6 L842.1 338.0 L843.6 338.4 L845.0 338.7 L846.5 339.0 L848.0 339.2 L849.5 339.5 L851.0 339.8 L852.4 340.0 L853.9 340.3 L855.4 340.7 L856.8 341.0 L858.3 341.4 L859.7 341.7 L861.2 342.1 L862.6 342.5 L864.0 342.8 L865.2 343.1 L867.0 343.6" fill="none" stroke="#000" stroke-width="3.30" stroke-linecap="butt" stroke-linejoin="round" stroke-dasharray="3.3 3.5"/>
<text x="243.27" y="423.80" font-size="22.30" fill="#111" font-weight="normal" textLength="209.17" lengthAdjust="spacingAndGlyphs">After pure ASP control</text>
<line x1="303.1" y1="402.0" x2="293.5" y2="319.4" stroke="#222" stroke-width="1.50" />
<polygon points="292.2,308.7 299.7,321.4 293.3,318.1 287.8,322.8" fill="#111"/>
<text x="591.15" y="209.70" font-size="22.30" fill="#111" font-weight="normal" textLength="130.81" lengthAdjust="spacingAndGlyphs">Before control</text>
<line x1="617.3" y1="225.9" x2="596.3" y2="246.6" stroke="#222" stroke-width="1.50" />
<polygon points="588.6,254.2 594.0,240.4 595.3,247.6 602.4,249.0" fill="#111"/>
<text x="690.68" y="410.80" font-size="22.30" fill="#111" font-weight="normal" textLength="104.51" lengthAdjust="spacingAndGlyphs">Target SPL</text>
<line x1="714.4" y1="389.6" x2="706.9" y2="359.4" stroke="#222" stroke-width="1.50" />
<polygon points="704.3,348.9 713.4,360.6 706.6,358.1 701.7,363.4" fill="#111"/>
<text x="529.8" y="557.3" font-size="28.5" fill="#111">(<tspan font-weight="bold">a</tspan>)</text>
<line x1="69.6" y1="613.0" x2="69.6" y2="1086.1" stroke="#333" stroke-width="1.40" />
<polygon points="69.6,601.2 62.1,615.8 77.0,615.8" fill="#000"/>
<line x1="28.4" y1="1043.6" x2="905.0" y2="1043.6" stroke="#333" stroke-width="1.40" />
<polygon points="918.1,1043.6 903.3,1036.6 903.3,1050.6" fill="#000"/>
<line x1="73.2" y1="661.8" x2="676.6" y2="661.8" stroke="#333" stroke-width="1.40" />
<polygon points="70.2,661.8 79.6,657.1 79.6,666.5" fill="#000"/>
<polygon points="679.6,661.8 670.2,657.1 670.2,666.5" fill="#000"/>
<line x1="684.1" y1="661.8" x2="877.3" y2="661.8" stroke="#333" stroke-width="1.40" />
<polygon points="681.1,661.8 690.5,657.1 690.5,666.5" fill="#000"/>
<polygon points="880.3,661.8 870.9,657.1 870.9,666.5" fill="#000"/>
<line x1="680.3" y1="618.1" x2="680.3" y2="693.6" stroke="#222" stroke-width="1.50" stroke-dasharray="4.6 4.3"/>
<text x="398.11" y="650.00" font-size="22.30" fill="#e60000" font-weight="bold" textLength="24.64" lengthAdjust="spacingAndGlyphs">on</text>
<text x="763.98" y="649.60" font-size="22.30" fill="#111" font-weight="normal" textLength="27.72" lengthAdjust="spacingAndGlyphs">off</text>
<text x="917.09" y="644.70" font-size="22.30" fill="#111" font-weight="normal" textLength="94.09" lengthAdjust="spacingAndGlyphs">Pure ASP</text>
<text x="882.57" y="673.00" font-size="22.30" fill="#111" font-weight="normal" textLength="63.71" lengthAdjust="spacingAndGlyphs">(sound</text>
<text x="951.11" y="673.00" font-size="22.30" fill="#111" font-weight="normal" textLength="101.20" lengthAdjust="spacingAndGlyphs">enhancing)</text>
<g transform="translate(48.80 990.70) rotate(-90)"><text x="-1.85" y="0" font-size="27.40" fill="#111" textLength="315.19" lengthAdjust="spacingAndGlyphs">SPL (dBA) of a higher order</text></g>
<text x="402.15" y="1076.50" font-size="25.50" fill="#111" font-weight="normal" textLength="73.14" lengthAdjust="spacingAndGlyphs">Engine</text>
<text x="485.46" y="1076.50" font-size="25.50" fill="#111" font-weight="normal" textLength="63.58" lengthAdjust="spacingAndGlyphs">speed</text>
<text x="553.16" y="1076.50" font-size="25.50" fill="#111" font-weight="normal" textLength="73.26" lengthAdjust="spacingAndGlyphs">(r/min)</text>
<path d="M73.0 979.0 L75.0 978.4 L77.0 977.7 L79.0 977.0 L81.0 976.2 L83.0 975.4 L85.0 974.6 L87.0 973.7 L89.0 972.8 L91.0 971.9 L93.0 971.0 L95.0 970.0 L97.0 969.0 L99.0 967.9 L101.0 966.9 L103.0 965.8 L105.0 964.6 L107.0 963.5 L109.0 962.3 L111.0 961.1 L113.0 959.9 L115.0 958.6 L117.0 957.3 L119.0 956.0 L121.0 954.7 L123.0 953.4 L125.0 952.0 L127.0 950.6 L129.0 949.2 L131.0 947.8 L133.0 946.4 L135.0 944.9 L137.0 943.4 L139.0 941.9 L141.0 940.4 L143.0 938.9 L145.0 937.4 L147.0 935.8 L149.0 934.2 L151.0 932.7 L153.0 931.1 L155.0 929.5 L157.0 927.9 L159.0 926.2 L161.0 924.6 L163.0 922.9 L165.0 921.3 L167.0 919.6 L169.0 918.0 L171.0 916.3 L173.0 914.6 L175.0 912.9 L177.0 911.2 L179.0 909.5 L181.0 907.8 L183.0 906.1 L185.0 904.4 L187.0 902.7 L189.0 901.0 L191.0 899.3 L193.0 897.6 L195.0 895.9 L197.0 894.2 L199.0 892.5 L201.0 890.8 L203.0 889.1 L205.0 887.4 L207.0 885.7 L209.0 884.0 L211.0 882.3 L213.0 880.7 L215.0 879.0 L217.0 877.3 L219.0 875.7 L221.0 874.0 L223.0 872.4 L225.0 870.7 L227.0 869.1 L229.0 867.5 L231.0 865.8 L233.0 864.2 L235.0 862.6 L237.0 861.1 L239.0 859.5 L241.0 857.9 L243.0 856.4 L245.0 854.8 L247.0 853.3 L249.0 851.8 L251.0 850.3 L253.0 848.8 L255.0 847.3 L257.0 845.8 L259.0 844.4 L261.0 842.9 L263.0 841.5 L265.0 840.1 L267.0 838.7 L269.0 837.3 L271.0 835.9 L273.0 834.6 L275.0 833.2 L277.0 831.9 L279.0 830.6 L281.0 829.3 L283.0 828.0 L285.0 826.7 L287.0 825.4 L289.0 824.1 L291.0 822.9 L293.0 821.7 L295.0 820.4 L297.0 819.2 L299.0 818.0 L301.0 816.8 L303.0 815.7 L305.0 814.5 L307.0 813.4 L309.0 812.2 L311.0 811.1 L313.0 810.0 L315.0 808.9 L317.0 807.8 L319.0 806.7 L321.0 805.7 L323.0 804.6 L325.0 803.6 L327.0 802.6 L329.0 801.5 L331.0 800.5 L333.0 799.5 L335.0 798.6 L337.0 797.6 L339.0 796.6 L341.0 795.7 L343.0 794.7 L345.0 793.8 L347.0 792.9 L349.0 792.0 L351.0 791.1 L353.0 790.2 L355.0 789.3 L357.0 788.4 L359.0 787.5 L361.0 786.7 L363.0 785.8 L365.0 785.0 L367.0 784.1 L369.0 783.3 L371.0 782.5 L373.0 781.6 L375.0 780.8 L377.0 780.0 L379.0 779.2 L381.0 778.4 L383.0 777.6 L385.0 776.8 L387.0 776.0 L389.0 775.2 L391.0 774.5 L393.0 773.7 L395.0 772.9 L397.0 772.2 L399.0 771.4 L401.0 770.6 L403.0 769.9 L405.0 769.1 L407.0 768.4 L409.0 767.6 L411.0 766.9 L413.0 766.1 L415.0 765.4 L417.0 764.7 L419.0 763.9 L421.0 763.2 L423.0 762.5 L425.0 761.7 L427.0 761.0 L429.0 760.3 L431.0 759.6 L433.0 758.8 L435.0 758.1 L437.0 757.4 L439.0 756.7 L441.0 756.0 L443.0 755.3 L445.0 754.6 L447.0 753.9 L449.0 753.2 L451.0 752.5 L453.0 751.8 L455.0 751.1 L457.0 750.4 L459.0 749.8 L461.0 749.1 L463.0 748.4 L465.0 747.7 L467.0 747.1 L469.0 746.4 L471.0 745.7 L473.0 745.1 L475.0 744.4 L477.0 743.8 L479.0 743.1 L481.0 742.5 L483.0 741.9 L485.0 741.2 L487.0 740.6 L489.0 740.0 L491.0 739.4 L493.0 738.7 L495.0 738.1 L497.0 737.5 L499.0 736.9 L501.0 736.3 L503.0 735.7 L505.0 735.1 L507.0 734.6 L509.0 734.0 L511.0 733.4 L513.0 732.8 L515.0 732.3 L517.0 731.7 L519.0 731.1 L521.0 730.6 L523.0 730.0 L525.0 729.5 L527.0 728.9 L529.0 728.4 L531.0 727.9 L533.0 727.4 L535.0 726.8 L537.0 726.3 L539.0 725.8 L541.0 725.3 L543.0 724.8 L545.0 724.3 L547.0 723.8 L549.0 723.3 L551.0 722.9 L553.0 722.4 L555.0 721.9 L557.0 721.5 L559.0 721.0 L561.0 720.6 L563.0 720.1 L565.0 719.7 L567.0 719.3 L569.0 718.8 L571.0 718.4 L573.0 718.0 L575.0 717.6 L577.0 717.2 L579.0 716.8 L581.0 716.4 L583.0 716.0 L585.0 715.7 L587.0 715.3 L589.0 714.9 L591.0 714.6 L593.0 714.2 L595.0 713.9 L597.0 713.5 L599.0 713.2 L601.0 712.9 L603.0 712.5 L605.0 712.2 L607.0 711.9 L609.0 711.6 L611.0 711.3 L613.0 711.0 L615.0 710.7 L617.0 710.4 L619.0 710.1 L621.0 709.9 L623.0 709.6 L625.0 709.3 L627.0 709.1 L629.0 708.8 L631.0 708.5 L633.0 708.3 L635.0 708.0 L637.0 707.8 L639.0 707.6 L641.0 707.3 L643.0 707.1 L645.0 706.9 L647.0 706.7 L649.0 706.5 L651.0 706.3 L653.0 706.1 L655.0 705.9 L657.0 705.7 L659.0 705.5 L661.0 705.3 L663.0 705.1 L665.0 704.9 L667.0 704.7 L669.0 704.6 L671.0 704.4 L673.0 704.2 L675.0 704.1 L677.0 703.9 L679.0 703.8 L681.0 703.6 L683.0 703.5 L685.0 703.3 L687.0 703.2 L689.0 703.0 L691.0 702.9 L693.0 702.8 L695.0 702.6 L697.0 702.5 L699.0 702.4 L701.0 702.2 L703.0 702.1 L705.0 702.0 L707.0 701.9 L709.0 701.8 L711.0 701.7 L713.0 701.6 L715.0 701.5 L717.0 701.4 L719.0 701.3 L721.0 701.2 L723.0 701.1 L725.0 701.0 L727.0 700.9 L729.0 700.8 L731.0 700.7 L733.0 700.6 L735.0 700.5 L737.0 700.4 L739.0 700.4 L741.0 700.3 L743.0 700.2 L745.0 700.1 L747.0 700.1 L749.0 700.0 L751.0 699.9 L753.0 699.8 L755.0 699.8 L757.0 699.7 L759.0 699.6 L761.0 699.6 L763.0 699.5 L765.0 699.4 L767.0 699.4 L769.0 699.3 L771.0 699.2 L773.0 699.2 L775.0 699.1 L777.0 699.1 L779.0 699.0 L781.0 698.9 L783.0 698.9 L785.0 698.8 L787.0 698.8 L789.0 698.7 L791.0 698.6 L793.0 698.6 L795.0 698.5 L797.0 698.5 L799.0 698.4 L801.0 698.3 L803.0 698.3 L805.0 698.2 L807.0 698.2 L809.0 698.1 L811.0 698.0 L813.0 698.0 L815.0 697.9 L817.0 697.9 L819.0 697.8 L821.0 697.7 L823.0 697.7 L825.0 697.6 L827.0 697.5 L829.0 697.5 L831.0 697.4 L833.0 697.3 L835.0 697.3 L837.0 697.2 L839.0 697.1 L841.0 697.1 L843.0 697.0 L845.0 696.9 L847.0 696.8 L849.0 696.7 L851.0 696.7 L853.0 696.6 L855.0 696.5 L857.0 696.4 L859.0 696.3 L861.0 696.2 L863.0 696.1 L865.0 696.0 L867.0 695.9 L869.0 695.9 L871.0 695.8 L873.0 695.6 L875.0 695.5 L877.0 695.4 L879.0 695.3 L881.0 695.2 L882.0 695.2" fill="none" stroke="#00b050" stroke-width="3.70" stroke-linecap="butt" stroke-linejoin="round" stroke-dasharray="10 4.2"/>
<path d="M73.9 988.7 L75.7 988.3 L76.9 988.0 L78.3 987.7 L79.8 987.4 L81.2 987.0 L82.7 986.7 L84.2 986.4 L85.6 986.0 L87.1 985.7 L88.5 985.4 L90.0 985.0 L91.5 984.7 L92.9 984.3 L94.4 983.9 L95.8 983.5 L97.3 983.1 L98.7 982.6 L100.1 982.1 L101.5 981.6 L102.9 981.1 L104.3 980.5 L105.7 979.9 L107.1 979.3 L108.4 978.8 L109.8 978.2 L111.2 977.7 L112.7 977.2 L114.1 976.8 L115.5 976.3 L117.0 975.9 L118.4 975.5 L119.9 975.1 L121.3 974.7 L122.7 974.2 L124.1 973.7 L125.5 973.1 L126.9 972.5 L128.3 971.9 L129.6 971.2 L131.0 970.6 L132.3 969.8 L133.6 969.1 L134.9 968.4 L136.2 967.6 L137.5 966.8 L138.8 966.1 L140.0 965.3 L141.3 964.5 L142.6 963.7 L143.9 962.9 L145.1 962.1 L146.4 961.2 L147.6 960.4 L148.8 959.5 L150.0 958.6 L151.1 957.6 L152.3 956.6 L153.4 955.6 L154.5 954.6 L155.6 953.6 L156.6 952.5 L157.7 951.4 L158.7 950.3 L159.7 949.2 L160.7 948.1 L161.7 947.0 L162.7 945.9 L163.7 944.7 L164.7 943.6 L165.7 942.4 L166.6 941.3 L167.6 940.1 L168.6 939.0 L169.5 937.9 L170.5 936.7 L171.5 935.6 L172.5 934.4 L173.4 933.3 L174.4 932.2 L175.4 931.0 L176.4 929.9 L177.4 928.8 L178.4 927.7 L179.4 926.6 L180.5 925.5 L181.5 924.4 L182.6 923.3 L183.6 922.3 L184.7 921.2 L185.8 920.2 L186.9 919.2 L188.0 918.1 L189.1 917.1 L190.2 916.1 L191.3 915.1 L192.4 914.1 L193.6 913.2 L194.7 912.2 L195.9 911.3 L197.1 910.3 L198.3 909.4 L199.4 908.4 L200.6 907.5 L201.8 906.6 L202.9 905.6 L204.1 904.6 L205.2 903.6 L206.3 902.6 L207.4 901.6 L208.5 900.6 L209.6 899.5 L210.7 898.5 L211.8 897.5 L212.9 896.5 L214.0 895.5 L215.2 894.5 L216.4 893.6 L217.6 892.8 L218.8 892.0 L220.1 891.2 L221.4 890.4 L222.7 889.6 L224.0 888.9 L225.3 888.1 L226.6 887.3 L227.8 886.5 L229.1 885.6 L230.3 884.8 L231.5 883.9 L232.7 883.1 L234.0 882.2 L235.2 881.3 L236.4 880.4 L237.6 879.6 L238.9 878.7 L240.1 877.9 L241.3 877.0 L242.6 876.2 L243.8 875.4 L245.1 874.5 L246.4 873.7 L247.6 872.9 L248.9 872.1 L250.2 871.3 L251.4 870.5 L252.7 869.7 L254.0 868.9 L255.3 868.1 L256.5 867.3 L257.8 866.5 L259.0 865.7 L260.2 864.8 L261.4 863.8 L262.5 862.9 L263.7 862.0 L264.9 861.1 L266.2 860.3 L267.6 859.6 L268.9 859.0 L270.3 858.5 L271.7 858.0 L273.1 857.5 L274.6 857.0 L276.0 856.6 L277.4 856.2 L278.9 855.8 L280.4 855.4 L281.8 855.1 L283.3 854.8 L284.8 854.5 L286.2 854.2 L287.7 854.0 L289.2 853.8 L290.7 853.6 L292.2 853.4 L293.7 853.2 L295.2 853.1 L296.7 853.0 L298.2 853.0 L299.7 853.1 L301.1 853.2 L302.6 853.4 L304.1 853.6 L305.6 853.8 L307.1 854.1 L308.6 854.3 L310.0 854.6 L311.5 854.9 L313.0 855.2 L314.4 855.6 L315.9 855.9 L317.3 856.3 L318.8 856.7 L320.2 857.1 L321.7 857.6 L323.1 858.0 L324.5 858.5 L325.9 859.0 L327.4 859.5 L328.8 860.0 L330.2 860.6 L331.5 861.2 L332.9 861.8 L334.3 862.4 L335.6 863.0 L337.0 863.7 L338.3 864.4 L339.7 865.1 L341.0 865.8 L342.3 866.5 L343.6 867.2 L344.9 868.0 L346.2 868.7 L347.5 869.5 L348.8 870.3 L350.1 871.0 L351.3 871.8 L352.6 872.6 L353.9 873.5 L355.1 874.3 L356.3 875.1 L357.6 876.0 L358.8 876.9 L360.0 877.8 L361.2 878.6 L362.4 879.5 L363.7 880.4 L364.9 881.3 L366.1 882.2 L367.3 883.0 L368.6 883.8 L369.8 884.7 L371.1 885.5 L372.4 886.3 L373.6 887.1 L374.9 887.9 L376.2 888.6 L377.5 889.4 L378.8 890.2 L380.1 890.9 L381.4 891.6 L382.7 892.3 L384.1 893.0 L385.4 893.6 L386.8 894.2 L388.2 894.8 L389.6 895.2 L391.1 895.6 L392.5 895.9 L394.0 896.1 L395.5 896.1 L397.0 896.1 L398.5 896.0 L400.0 895.9 L401.5 895.7 L403.0 895.5 L404.5 895.2 L405.9 895.0 L407.4 894.7 L408.9 894.4 L410.3 894.0 L411.8 893.7 L413.3 893.3 L414.7 892.9 L416.1 892.5 L417.6 892.0 L419.0 891.6 L420.4 891.1 L421.8 890.5 L423.2 890.0 L424.6 889.4 L426.0 888.9 L427.4 888.3 L428.8 887.7 L430.1 887.1 L431.5 886.5 L432.9 885.9 L434.3 885.3 L435.7 884.7 L437.1 884.2 L438.4 883.6 L439.8 883.0 L441.2 882.4 L442.6 881.8 L443.9 881.2 L445.3 880.5 L446.6 879.8 L447.9 879.0 L449.2 878.3 L450.5 877.5 L451.7 876.7 L453.0 875.9 L454.3 875.1 L455.5 874.2 L456.7 873.4 L458.0 872.5 L459.1 871.6 L460.3 870.6 L461.4 869.6 L462.5 868.6 L463.6 867.5 L464.6 866.4 L465.6 865.3 L466.5 864.1 L467.4 862.9 L468.3 861.7 L469.2 860.5 L470.0 859.3 L470.8 858.0 L471.7 856.7 L472.5 855.5 L473.3 854.2 L474.0 852.9 L474.8 851.6 L475.5 850.3 L476.2 849.0 L476.8 847.6 L477.3 846.2 L477.9 844.8 L478.5 843.4 L479.1 842.1 L479.8 840.8 L480.6 839.5 L481.5 838.3 L482.4 837.1 L483.4 836.0 L484.5 834.9 L485.5 833.9 L486.6 832.8 L487.8 831.8 L488.9 830.8 L490.0 829.9 L491.2 828.9 L492.4 828.0 L493.6 827.1 L494.8 826.2 L496.0 825.4 L497.3 824.5 L498.5 823.7 L499.8 822.8 L501.0 822.0 L502.3 821.3 L503.6 820.5 L504.9 819.7 L506.2 819.0 L507.5 818.2 L508.8 817.5 L510.1 816.8 L511.5 816.1 L512.8 815.4 L514.1 814.7 L515.5 814.1 L516.8 813.4 L518.2 812.7 L519.5 812.1 L520.9 811.4 L522.2 810.8 L523.6 810.2 L525.0 809.6 L526.4 809.0 L527.7 808.4 L529.1 807.8 L530.5 807.3 L531.9 806.7 L533.3 806.2 L534.7 805.7 L536.1 805.1 L537.5 804.6 L539.0 804.1 L540.4 803.6 L541.8 803.1 L543.2 802.5 L544.6 802.0 L546.0 801.5 L547.4 801.0 L548.8 800.5 L550.2 799.9 L551.6 799.4 L553.0 798.9 L554.5 798.4 L555.9 797.9 L557.3 797.4 L558.7 796.9 L560.1 796.4 L561.6 796.0 L563.0 795.5 L564.4 795.0 L565.8 794.5 L567.3 794.1 L568.7 793.6 L570.1 793.1 L571.5 792.6 L572.9 792.1 L574.4 791.6 L575.8 791.2 L577.2 790.7 L578.6 790.2 L580.1 789.8 L581.5 789.4 L583.0 789.0 L584.4 788.7 L585.9 788.5 L587.4 788.4 L588.9 788.4 L590.4 788.5 L591.9 788.8 L593.3 789.1 L594.7 789.6 L596.1 790.2 L597.4 790.9 L598.7 791.7 L599.9 792.5 L601.1 793.5 L602.2 794.5 L603.3 795.5 L604.3 796.6 L605.3 797.7 L606.2 798.9 L607.1 800.1 L608.0 801.3 L608.9 802.5 L609.8 803.7 L610.6 804.9 L611.5 806.2 L612.3 807.4 L613.2 808.7 L614.0 809.9 L614.8 811.2 L615.7 812.4 L616.5 813.7 L617.3 814.9 L618.2 816.2 L619.0 817.4 L619.8 818.7 L620.5 820.0 L621.3 821.3 L622.1 822.5 L622.9 823.8 L623.7 825.1 L624.4 826.4 L625.2 827.7 L626.0 829.0 L626.8 830.3 L627.6 831.5 L628.3 832.8 L629.1 834.1 L629.9 835.4 L630.6 836.7 L631.4 838.0 L632.2 839.3 L632.9 840.6 L633.7 841.9 L634.5 843.1 L635.3 844.4 L636.1 845.7 L637.0 846.9 L637.8 848.1 L638.7 849.3 L639.7 850.5 L640.6 851.7 L641.6 852.8 L642.6 853.9 L643.6 855.0 L644.6 856.1 L645.7 857.2 L646.8 858.2 L647.8 859.3 L648.9 860.3 L650.1 861.3 L651.2 862.2 L652.4 863.1 L653.7 864.0 L654.9 864.7 L656.3 865.4 L657.7 865.8 L659.1 866.1 L660.6 866.1 L662.1 866.0 L663.5 865.7 L665.0 865.3 L666.3 864.8 L667.7 864.2 L669.0 863.5 L670.3 862.7 L671.6 862.0 L672.9 861.2 L674.2 860.4 L675.4 859.6 L676.7 858.7 L677.9 857.8 L679.1 857.0 L680.3 856.0 L681.5 855.1 L682.7 854.2 L683.8 853.3 L685.0 852.3 L686.2 851.3 L687.3 850.4 L688.4 849.4 L689.6 848.4 L690.7 847.4 L691.8 846.4 L692.9 845.4 L694.0 844.4 L695.1 843.4 L696.3 842.4 L697.4 841.4 L698.5 840.4 L699.6 839.4 L700.8 838.4 L701.9 837.4 L703.1 836.5 L704.2 835.6 L705.4 834.6 L706.6 833.8 L707.9 832.9 L709.1 832.0 L710.4 831.2 L711.7 830.5 L713.0 829.7 L714.3 829.1 L715.7 828.5 L717.1 827.9 L718.5 827.4 L719.9 827.0 L721.4 826.6 L722.8 826.3 L724.3 826.0 L725.8 825.8 L727.3 825.7 L728.8 825.5 L730.3 825.5 L731.8 825.4 L733.3 825.5 L734.8 825.6 L736.3 825.7 L737.8 825.9 L739.2 826.2 L740.7 826.5 L742.2 826.8 L743.6 827.1 L745.1 827.5 L746.6 827.8 L748.0 828.1 L749.5 828.5 L750.9 828.8 L752.4 829.2 L753.8 829.6 L755.3 829.9 L756.8 830.3 L758.2 830.7 L759.7 831.0 L761.2 831.2 L762.6 831.4 L764.1 831.5 L765.6 831.5 L767.1 831.5 L768.6 831.4 L770.1 831.3 L771.6 831.1 L773.1 830.8 L774.5 830.5 L776.0 830.1 L777.4 829.7 L778.8 829.1 L780.2 828.6 L781.5 827.9 L782.8 827.2 L784.1 826.4 L785.4 825.5 L786.6 824.7 L787.8 823.8 L789.0 822.9 L790.3 822.1 L791.5 821.2 L792.7 820.4 L794.0 819.6 L795.3 818.9 L796.7 818.2 L798.1 817.6 L799.5 817.1 L800.9 816.6 L802.3 816.1 L803.7 815.7 L805.2 815.3 L806.6 814.9 L808.1 814.6 L809.6 814.3 L811.0 814.0 L812.5 813.7 L814.0 813.5 L815.5 813.3 L817.0 813.1 L818.5 813.0 L820.0 812.8 L821.5 812.8 L823.0 812.8 L824.5 812.9 L826.0 813.0 L827.4 813.2 L828.9 813.5 L830.4 813.8 L831.8 814.2 L833.2 814.7 L834.7 815.2 L836.0 815.7 L837.4 816.3 L838.8 817.0 L840.1 817.7 L841.4 818.5 L842.7 819.2 L843.9 820.0 L845.2 820.8 L846.5 821.6 L847.8 822.4 L849.0 823.2 L850.3 823.9 L851.7 824.7 L853.0 825.4 L854.3 826.1 L855.6 826.8 L857.0 827.4 L858.3 828.1 L859.7 828.8 L861.0 829.4 L862.4 830.1 L863.7 830.7 L865.1 831.4 L866.5 832.0 L867.8 832.6 L869.2 833.2 L870.6 833.9 L871.9 834.5 L873.3 835.1 L874.5 835.6 L875.5 836.0 L876.5 836.5" fill="none" stroke="#000" stroke-width="3.30" stroke-linecap="butt" stroke-linejoin="round" stroke-dasharray="3.3 3.5"/>
<path d="M73.0 988.3 L74.9 987.7 L76.0 987.3 L77.3 986.8 L78.7 986.4 L80.1 985.9 L81.5 985.4 L83.0 984.9 L84.4 984.4 L85.8 983.9 L87.2 983.4 L88.6 982.9 L90.0 982.3 L91.4 981.8 L92.8 981.3 L94.2 980.7 L95.6 980.1 L97.0 979.6 L98.4 979.0 L99.8 978.5 L101.1 977.9 L102.5 977.3 L103.9 976.8 L105.3 976.2 L106.7 975.6 L108.1 975.1 L109.5 974.5 L110.8 973.8 L112.2 973.2 L113.5 972.5 L114.8 971.8 L116.1 971.1 L117.5 970.3 L118.8 969.6 L120.0 968.8 L121.3 968.0 L122.6 967.2 L123.8 966.4 L125.0 965.5 L126.3 964.6 L127.5 963.8 L128.7 962.8 L129.8 961.9 L131.0 960.9 L132.0 959.9 L133.1 958.8 L134.1 957.7 L135.0 956.5 L136.0 955.4 L136.8 954.1 L137.6 952.9 L138.4 951.6 L139.2 950.3 L139.9 949.0 L140.6 947.7 L141.3 946.3 L141.9 945.0 L142.6 943.6 L143.3 942.3 L144.0 941.0 L144.8 939.7 L145.5 938.4 L146.3 937.1 L147.2 935.9 L148.0 934.7 L148.9 933.4 L149.7 932.2 L150.6 931.0 L151.5 929.8 L152.4 928.6 L153.3 927.4 L154.3 926.2 L155.2 925.0 L156.1 923.9 L157.1 922.7 L158.1 921.6 L159.0 920.4 L160.0 919.3 L161.0 918.2 L162.0 917.1 L163.0 916.0 L164.1 914.9 L165.1 913.8 L166.1 912.7 L167.1 911.6 L168.2 910.5 L169.2 909.4 L170.3 908.3 L171.3 907.3 L172.4 906.2 L173.5 905.2 L174.6 904.1 L175.7 903.1 L176.8 902.1 L177.9 901.1 L179.0 900.1 L180.2 899.2 L181.3 898.2 L182.5 897.3 L183.7 896.3 L184.9 895.4 L186.1 894.5 L187.3 893.7 L188.5 892.8 L189.8 892.0 L191.0 891.1 L192.3 890.3 L193.6 889.5 L194.8 888.8 L196.1 888.0 L197.4 887.2 L198.6 886.4 L199.9 885.5 L201.1 884.7 L202.4 883.8 L203.6 882.9 L204.8 882.1 L206.0 881.2 L207.3 880.4 L208.5 879.5 L209.8 878.7 L211.1 877.9 L212.3 877.2 L213.6 876.4 L214.9 875.6 L216.2 874.9 L217.5 874.1 L218.8 873.4 L220.1 872.7 L221.5 871.9 L222.8 871.2 L224.1 870.5 L225.4 869.8 L226.7 869.0 L228.0 868.3 L229.4 867.6 L230.7 866.9 L232.0 866.2 L233.3 865.5 L234.7 864.8 L236.0 864.1 L237.3 863.4 L238.6 862.7 L240.0 862.0 L241.3 861.2 L242.6 860.5 L243.9 859.8 L245.2 859.0 L246.5 858.3 L247.8 857.5 L249.1 856.8 L250.4 856.0 L251.7 855.3 L253.0 854.5 L254.3 853.7 L255.5 853.0 L256.8 852.2 L257.9 851.4 L259.0 850.6 L260.0 849.7 L261.0 848.8 L262.0 848.0 L263.2 847.2 L264.4 846.3 L265.6 845.5 L266.9 844.8 L268.2 844.0 L269.5 843.2 L270.7 842.4 L272.0 841.6 L273.3 840.8 L274.5 839.9 L275.7 839.1 L277.0 838.2 L278.2 837.3 L279.3 836.4 L280.5 835.4 L281.7 834.5 L282.8 833.5 L283.9 832.5 L285.1 831.5 L286.2 830.5 L287.3 829.5 L288.4 828.5 L289.5 827.5 L290.7 826.5 L291.8 825.5 L292.9 824.6 L294.1 823.6 L295.2 822.6 L296.4 821.7 L297.5 820.7 L298.7 819.8 L299.9 818.8 L301.0 817.9 L302.2 816.9 L303.4 816.0 L304.6 815.1 L305.7 814.1 L306.9 813.2 L308.1 812.3 L309.3 811.4 L310.5 810.4 L311.6 809.5 L312.8 808.6 L314.0 807.6 L315.2 806.7 L316.4 805.8 L317.6 804.9 L318.8 804.1 L320.1 803.3 L321.4 802.5 L322.7 801.8 L324.0 801.0 L325.3 800.3 L326.6 799.6 L327.9 798.9 L329.3 798.2 L330.6 797.5 L331.9 796.8 L333.3 796.2 L334.6 795.5 L336.0 794.9 L337.4 794.3 L338.7 793.7 L340.1 793.1 L341.5 792.5 L342.9 791.9 L344.3 791.3 L345.7 790.8 L347.1 790.2 L348.5 789.7 L349.9 789.2 L351.3 788.7 L352.7 788.2 L354.2 787.8 L355.6 787.3 L357.0 786.9 L358.5 786.5 L359.9 786.1 L361.4 785.7 L362.8 785.3 L364.3 785.0 L365.7 784.6 L367.2 784.3 L368.7 783.9 L370.1 783.6 L371.6 783.3 L373.0 782.9 L374.5 782.6 L376.0 782.3 L377.4 781.9 L378.9 781.6 L380.4 781.3 L381.8 781.0 L383.3 780.7 L384.8 780.4 L386.3 780.1 L387.7 779.8 L389.2 779.5 L390.7 779.2 L392.1 778.9 L393.6 778.6 L395.1 778.3 L396.5 778.0 L398.0 777.7 L399.5 777.4 L400.9 777.1 L402.4 776.7 L403.9 776.4 L405.3 776.1 L406.8 775.8 L408.3 775.4 L409.7 775.1 L411.2 774.7 L412.6 774.3 L414.1 773.8 L415.5 773.4 L416.9 772.9 L418.3 772.3 L419.7 771.7 L421.0 771.1 L422.4 770.4 L423.7 769.7 L425.0 769.0 L426.3 768.3 L427.7 767.6 L429.0 766.9 L430.3 766.3 L431.7 765.7 L433.1 765.2 L434.5 764.7 L436.0 764.3 L437.4 763.8 L438.7 763.2 L440.0 762.5 L441.3 761.7 L442.5 760.8 L443.7 759.9 L444.8 758.9 L446.0 758.0 L447.1 757.0 L448.3 756.1 L449.5 755.2 L450.7 754.3 L452.0 753.5 L453.2 752.7 L454.5 751.9 L455.8 751.1 L457.1 750.4 L458.4 749.7 L459.8 749.0 L461.1 748.4 L462.5 747.7 L463.8 747.1 L465.2 746.5 L466.6 746.0 L468.0 745.5 L469.5 745.1 L470.9 744.7 L472.4 744.3 L473.8 744.0 L475.3 743.7 L476.8 743.5 L478.3 743.3 L479.8 743.1 L481.3 743.0 L482.8 742.8 L484.3 742.8 L485.8 742.7 L487.3 742.8 L488.7 742.8 L490.2 742.9 L491.7 743.0 L493.2 743.1 L494.7 743.2 L496.2 743.2 L497.7 743.1 L499.2 742.9 L500.6 742.6 L502.1 742.2 L503.4 741.7 L504.8 741.1 L506.1 740.4 L507.5 739.7 L508.8 738.9 L510.1 738.2 L511.3 737.4 L512.6 736.6 L513.9 735.8 L515.1 735.0 L516.4 734.2 L517.6 733.3 L518.9 732.5 L520.2 731.8 L521.5 731.0 L522.8 730.3 L524.2 729.7 L525.5 729.1 L526.9 728.5 L528.3 728.0 L529.8 727.6 L531.2 727.2 L532.7 726.8 L534.1 726.5 L535.6 726.2 L537.1 725.9 L538.6 725.6 L540.0 725.4 L541.5 725.1 L543.0 724.9 L544.5 724.7 L546.0 724.4 L547.4 724.2 L548.9 724.0 L550.4 723.8 L551.9 723.6 L553.4 723.4 L554.9 723.2 L556.4 723.1 L557.9 722.9 L559.4 722.7 L560.8 722.5 L562.3 722.3 L563.8 722.1 L565.3 721.9 L566.8 721.6 L568.3 721.4 L569.7 721.1 L571.2 720.8 L572.7 720.5 L574.1 720.2 L575.6 719.8 L577.1 719.5 L578.5 719.1 L580.0 718.7 L581.4 718.4 L582.9 718.0 L584.3 717.6 L585.8 717.2 L587.2 716.8 L588.7 716.4 L590.1 716.0 L591.6 715.7 L593.0 715.3 L594.5 714.9 L595.9 714.6 L597.4 714.2 L598.8 713.8 L600.3 713.4 L601.7 713.0 L603.2 712.7 L604.7 712.3 L606.1 711.9 L607.6 711.6 L609.0 711.2 L610.5 710.9 L611.9 710.5 L613.4 710.2 L614.9 709.9 L616.4 709.6 L617.8 709.3 L619.3 709.0 L620.8 708.8 L622.3 708.5 L623.7 708.3 L625.2 708.0 L626.7 707.8 L628.2 707.6 L629.7 707.4 L631.2 707.2 L632.7 707.1 L634.1 706.9 L635.6 706.8 L637.1 706.7 L638.6 706.6 L640.1 706.6 L641.6 706.5 L643.1 706.5 L644.6 706.5 L646.1 706.6 L647.6 706.6 L649.1 706.7 L650.6 706.8 L652.1 707.0 L653.6 707.1 L655.1 707.4 L656.6 707.6 L658.0 707.9 L659.5 708.2 L661.0 708.6 L662.4 709.0 L663.8 709.5 L665.2 710.0 L666.5 710.7 L667.8 711.4 L669.0 712.3 L670.2 713.2 L671.2 714.3 L672.3 715.4 L673.2 716.5 L674.1 717.7 L674.9 718.9 L675.7 720.2 L676.5 721.5 L677.3 722.8 L678.0 724.1 L678.7 725.4 L679.4 726.8 L680.0 728.1 L680.6 729.5 L681.2 730.9 L681.8 732.3 L682.3 733.7 L682.8 735.1 L683.3 736.5 L683.7 737.9 L684.2 739.4 L684.6 740.8 L684.9 742.3 L685.3 743.7 L685.6 745.2 L685.9 746.7 L686.2 748.1 L686.4 749.6 L686.7 751.1 L686.9 752.6 L687.2 754.1 L687.4 755.5 L687.7 757.0 L688.0 758.5 L688.2 760.0 L688.5 761.4 L688.8 762.9 L689.0 764.4 L689.3 765.9 L689.6 767.4 L689.8 768.8 L690.1 770.3 L690.4 771.8 L690.7 773.3 L690.9 774.7 L691.2 776.2 L691.5 777.7 L691.8 779.1 L692.1 780.6 L692.4 782.1 L692.7 783.6 L693.0 785.0 L693.4 786.5 L693.8 787.9 L694.3 789.3 L694.8 790.7 L695.4 792.1 L696.0 793.5 L696.8 794.7 L697.6 796.0 L698.6 797.1 L699.6 798.2 L700.7 799.2 L701.8 800.2 L703.0 801.1 L704.2 802.0 L705.5 802.8 L706.7 803.6 L708.0 804.4 L709.3 805.2 L710.6 806.0 L711.9 806.7 L713.2 807.5 L714.5 808.2 L715.8 808.9 L717.1 809.7 L718.4 810.4 L719.7 811.2 L721.0 811.9 L722.3 812.6 L723.6 813.3 L725.0 814.0 L726.3 814.7 L727.6 815.4 L729.0 816.1 L730.3 816.7 L731.7 817.4 L733.0 818.0 L734.4 818.6 L735.8 819.1 L737.2 819.7 L738.6 820.2 L740.0 820.7 L741.5 821.1 L742.9 821.6 L744.3 822.0 L745.8 822.4 L747.2 822.8 L748.7 823.2 L750.2 823.5 L751.6 823.8 L753.1 824.1 L754.6 824.4 L756.0 824.6 L757.5 824.9 L759.0 825.0 L760.5 825.2 L762.0 825.3 L763.5 825.4 L765.0 825.4 L766.5 825.4 L768.0 825.4 L769.5 825.3 L771.0 825.2 L772.5 825.1 L774.0 824.9 L775.5 824.7 L776.9 824.5 L778.4 824.3 L779.9 824.0 L781.4 823.7 L782.8 823.4 L784.3 823.1 L785.8 822.8 L787.2 822.4 L788.7 822.0 L790.1 821.6 L791.5 821.1 L793.0 820.6 L794.4 820.1 L795.8 819.6 L797.2 819.2 L798.6 818.7 L800.1 818.3 L801.5 817.9 L803.0 817.6 L804.4 817.2 L805.9 816.9 L807.4 816.6 L808.9 816.4 L810.3 816.1 L811.8 815.9 L813.3 815.8 L814.8 815.6 L816.3 815.5 L817.8 815.5 L819.3 815.5 L820.8 815.5 L822.3 815.6 L823.8 815.8 L825.3 816.0 L826.7 816.3 L828.2 816.5 L829.7 816.9 L831.1 817.2 L832.6 817.5 L834.1 817.9 L835.5 818.3 L837.0 818.6 L838.4 819.0 L839.9 819.4 L841.3 819.8 L842.8 820.2 L844.2 820.6 L845.6 821.1 L847.1 821.5 L848.5 821.9 L849.9 822.4 L851.4 822.8 L852.8 823.3 L854.3 823.7 L855.7 824.1 L857.1 824.6 L858.6 825.0 L860.0 825.5 L861.4 825.9 L862.9 826.3 L864.3 826.7 L865.7 827.2 L867.2 827.6 L868.6 828.0 L870.1 828.4 L871.5 828.9 L872.9 829.3 L874.3 829.7 L875.6 830.1 L876.8 830.4 L878.7 831.0" fill="none" stroke="#e60000" stroke-width="3.60" stroke-linecap="round" stroke-linejoin="round"/>
<text x="153.16" y="770.90" font-size="22.30" fill="#111" font-weight="normal" textLength="109.39" lengthAdjust="spacingAndGlyphs">Target SPL</text>
<line x1="217.4" y1="788.5" x2="253.1" y2="832.0" stroke="#222" stroke-width="1.50" />
<polygon points="260.0,840.3 246.8,833.7 254.0,833.0 256.1,826.1" fill="#111"/>
<text x="320.01" y="974.90" font-size="22.30" fill="#111" font-weight="normal" textLength="137.77" lengthAdjust="spacingAndGlyphs">Before control</text>
<line x1="390.7" y1="953.0" x2="399.7" y2="904.9" stroke="#222" stroke-width="1.50" />
<polygon points="401.7,894.3 405.1,908.7 400.0,903.6 393.3,906.5" fill="#111"/>
<text x="560.86" y="924.40" font-size="22.30" fill="#111" font-weight="normal" textLength="218.30" lengthAdjust="spacingAndGlyphs">After pure ASP control</text>
<line x1="671.1" y1="892.8" x2="697.8" y2="810.2" stroke="#222" stroke-width="1.50" />
<polygon points="701.1,799.9 702.7,814.6 698.2,808.9 691.2,810.9" fill="#111"/>
<text x="528.4" y="1150.3" font-size="28.5" fill="#111">(<tspan font-weight="bold">b</tspan>)</text>
<line x1="68.2" y1="1206.0" x2="68.2" y2="1725.7" stroke="#333" stroke-width="1.40" />
<polygon points="68.2,1194.2 60.8,1208.8 75.7,1208.8" fill="#000"/>
<line x1="23.4" y1="1689.6" x2="898.0" y2="1689.6" stroke="#333" stroke-width="1.40" />
<polygon points="910.8,1689.7 896.0,1682.7 896.0,1696.7" fill="#000"/>
<line x1="71.9" y1="1244.6" x2="673.4" y2="1244.6" stroke="#333" stroke-width="1.40" />
<polygon points="68.9,1244.6 78.3,1239.9 78.3,1249.3" fill="#000"/>
<polygon points="676.4,1244.6 667.0,1239.9 667.0,1249.3" fill="#000"/>
<line x1="682.7" y1="1244.6" x2="873.3" y2="1244.6" stroke="#333" stroke-width="1.40" />
<polygon points="679.7,1244.6 689.1,1239.9 689.1,1249.3" fill="#000"/>
<polygon points="876.3,1244.6 866.9,1239.9 866.9,1249.3" fill="#000"/>
<line x1="71.9" y1="1316.8" x2="673.4" y2="1316.8" stroke="#333" stroke-width="1.40" />
<polygon points="68.9,1316.8 78.3,1312.1 78.3,1321.5" fill="#000"/>
<polygon points="676.4,1316.8 667.0,1312.1 667.0,1321.5" fill="#000"/>
<line x1="682.7" y1="1316.8" x2="873.3" y2="1316.8" stroke="#333" stroke-width="1.40" />
<polygon points="679.7,1316.8 689.1,1312.1 689.1,1321.5" fill="#000"/>
<polygon points="876.3,1316.8 866.9,1312.1 866.9,1321.5" fill="#000"/>
<line x1="678.0" y1="1215.7" x2="678.0" y2="1343.1" stroke="#222" stroke-width="1.60" stroke-dasharray="5.8 3.3"/>
<text x="390.31" y="1232.90" font-size="22.30" fill="#111" font-weight="normal" textLength="29.99" lengthAdjust="spacingAndGlyphs">off</text>
<text x="391.82" y="1305.00" font-size="22.30" fill="#0000e8" font-weight="bold" textLength="24.43" lengthAdjust="spacingAndGlyphs">on</text>
<text x="764.05" y="1232.20" font-size="22.30" fill="#0000e8" font-weight="bold" textLength="23.59" lengthAdjust="spacingAndGlyphs">on</text>
<text x="761.11" y="1303.90" font-size="22.30" fill="#111" font-weight="normal" textLength="26.99" lengthAdjust="spacingAndGlyphs">off</text>
<text x="902.72" y="1232.80" font-size="22.30" fill="#111" font-weight="normal" textLength="119.46" lengthAdjust="spacingAndGlyphs">Feedforward</text>
<text x="902.52" y="1260.30" font-size="22.30" fill="#111" font-weight="normal" textLength="119.52" lengthAdjust="spacingAndGlyphs">enhancement</text>
<text x="917.90" y="1300.50" font-size="22.30" fill="#111" font-weight="normal" textLength="93.48" lengthAdjust="spacingAndGlyphs">Pure ASP</text>
<text x="882.34" y="1329.00" font-size="22.30" fill="#111" font-weight="normal" textLength="65.86" lengthAdjust="spacingAndGlyphs">(sound</text>
<text x="951.32" y="1329.00" font-size="22.30" fill="#111" font-weight="normal" textLength="100.79" lengthAdjust="spacingAndGlyphs">enhancing)</text>
<g transform="translate(48.20 1656.50) rotate(-90)"><text x="-1.83" y="0" font-size="27.20" fill="#111" textLength="333.69" lengthAdjust="spacingAndGlyphs">SPL (dBA) of the higher order</text></g>
<text x="353.05" y="1721.50" font-size="25.50" fill="#111" font-weight="normal" textLength="73.34" lengthAdjust="spacingAndGlyphs">Engine</text>
<text x="436.56" y="1721.50" font-size="25.50" fill="#111" font-weight="normal" textLength="63.17" lengthAdjust="spacingAndGlyphs">speed</text>
<text x="504.27" y="1721.50" font-size="25.50" fill="#111" font-weight="normal" textLength="72.64" lengthAdjust="spacingAndGlyphs">(r/min)</text>
<path d="M68.3 1625.5 L70.3 1625.0 L72.3 1624.4 L74.3 1623.8 L76.3 1623.2 L78.3 1622.5 L80.3 1621.7 L82.3 1621.0 L84.3 1620.2 L86.3 1619.3 L88.3 1618.5 L90.3 1617.6 L92.3 1616.6 L94.3 1615.6 L96.3 1614.6 L98.3 1613.6 L100.3 1612.5 L102.3 1611.4 L104.3 1610.3 L106.3 1609.1 L108.3 1607.9 L110.3 1606.7 L112.3 1605.4 L114.3 1604.2 L116.3 1602.9 L118.3 1601.6 L120.3 1600.2 L122.3 1598.8 L124.3 1597.4 L126.3 1596.0 L128.3 1594.6 L130.3 1593.1 L132.3 1591.6 L134.3 1590.2 L136.3 1588.6 L138.3 1587.1 L140.3 1585.6 L142.3 1584.0 L144.3 1582.4 L146.3 1580.8 L148.3 1579.2 L150.3 1577.6 L152.3 1575.9 L154.3 1574.3 L156.3 1572.6 L158.3 1571.0 L160.3 1569.3 L162.3 1567.6 L164.3 1565.9 L166.3 1564.2 L168.3 1562.5 L170.3 1560.8 L172.3 1559.0 L174.3 1557.3 L176.3 1555.6 L178.3 1553.9 L180.3 1552.1 L182.3 1550.4 L184.3 1548.6 L186.3 1546.9 L188.3 1545.2 L190.3 1543.4 L192.3 1541.7 L194.3 1539.9 L196.3 1538.2 L198.3 1536.5 L200.3 1534.8 L202.3 1533.0 L204.3 1531.3 L206.3 1529.6 L208.3 1527.9 L210.3 1526.2 L212.3 1524.5 L214.3 1522.8 L216.3 1521.2 L218.3 1519.5 L220.3 1517.8 L222.3 1516.2 L224.3 1514.5 L226.3 1512.9 L228.3 1511.3 L230.3 1509.6 L232.3 1508.0 L234.3 1506.4 L236.3 1504.9 L238.3 1503.3 L240.3 1501.7 L242.3 1500.2 L244.3 1498.6 L246.3 1497.1 L248.3 1495.6 L250.3 1494.1 L252.3 1492.6 L254.3 1491.1 L256.3 1489.7 L258.3 1488.2 L260.3 1486.8 L262.3 1485.4 L264.3 1484.0 L266.3 1482.6 L268.3 1481.3 L270.3 1479.9 L272.3 1478.6 L274.3 1477.3 L276.3 1476.0 L278.3 1474.7 L280.3 1473.5 L282.3 1472.2 L284.3 1471.0 L286.3 1469.8 L288.3 1468.7 L290.3 1467.5 L292.3 1466.4 L294.3 1465.2 L296.3 1464.1 L298.3 1463.0 L300.3 1462.0 L302.3 1460.9 L304.3 1459.8 L306.3 1458.8 L308.3 1457.8 L310.3 1456.8 L312.3 1455.8 L314.3 1454.8 L316.3 1453.8 L318.3 1452.8 L320.3 1451.9 L322.3 1451.0 L324.3 1450.0 L326.3 1449.1 L328.3 1448.2 L330.3 1447.3 L332.3 1446.4 L334.3 1445.5 L336.3 1444.6 L338.3 1443.7 L340.3 1442.9 L342.3 1442.0 L344.3 1441.2 L346.3 1440.3 L348.3 1439.5 L350.3 1438.6 L352.3 1437.8 L354.3 1437.0 L356.3 1436.2 L358.3 1435.4 L360.3 1434.6 L362.3 1433.8 L364.3 1433.0 L366.3 1432.2 L368.3 1431.4 L370.3 1430.6 L372.3 1429.9 L374.3 1429.1 L376.3 1428.4 L378.3 1427.6 L380.3 1426.8 L382.3 1426.1 L384.3 1425.4 L386.3 1424.6 L388.3 1423.9 L390.3 1423.2 L392.3 1422.4 L394.3 1421.7 L396.3 1421.0 L398.3 1420.3 L400.3 1419.6 L402.3 1418.8 L404.3 1418.1 L406.3 1417.4 L408.3 1416.7 L410.3 1416.0 L412.3 1415.3 L414.3 1414.6 L416.3 1413.9 L418.3 1413.2 L420.3 1412.5 L422.3 1411.9 L424.3 1411.2 L426.3 1410.5 L428.3 1409.8 L430.3 1409.1 L432.3 1408.4 L434.3 1407.7 L436.3 1407.1 L438.3 1406.4 L440.3 1405.7 L442.3 1405.0 L444.3 1404.3 L446.3 1403.7 L448.3 1403.0 L450.3 1402.3 L452.3 1401.6 L454.3 1400.9 L456.3 1400.3 L458.3 1399.6 L460.3 1398.9 L462.3 1398.2 L464.3 1397.6 L466.3 1396.9 L468.3 1396.2 L470.3 1395.6 L472.3 1394.9 L474.3 1394.2 L476.3 1393.6 L478.3 1392.9 L480.3 1392.3 L482.3 1391.6 L484.3 1390.9 L486.3 1390.3 L488.3 1389.6 L490.3 1389.0 L492.3 1388.4 L494.3 1387.7 L496.3 1387.1 L498.3 1386.4 L500.3 1385.8 L502.3 1385.2 L504.3 1384.6 L506.3 1383.9 L508.3 1383.3 L510.3 1382.7 L512.3 1382.1 L514.3 1381.5 L516.3 1380.9 L518.3 1380.3 L520.3 1379.7 L522.3 1379.1 L524.3 1378.5 L526.3 1377.9 L528.3 1377.3 L530.3 1376.8 L532.3 1376.2 L534.3 1375.6 L536.3 1375.1 L538.3 1374.5 L540.3 1374.0 L542.3 1373.4 L544.3 1372.9 L546.3 1372.4 L548.3 1371.8 L550.3 1371.3 L552.3 1370.8 L554.3 1370.3 L556.3 1369.8 L558.3 1369.3 L560.3 1368.8 L562.3 1368.3 L564.3 1367.8 L566.3 1367.3 L568.3 1366.9 L570.3 1366.4 L572.3 1366.0 L574.3 1365.5 L576.3 1365.1 L578.3 1364.6 L580.3 1364.2 L582.3 1363.8 L584.3 1363.4 L586.3 1363.0 L588.3 1362.6 L590.3 1362.2 L592.3 1361.8 L594.3 1361.4 L596.3 1361.0 L598.3 1360.7 L600.3 1360.3 L602.3 1360.0 L604.3 1359.6 L606.3 1359.3 L608.3 1358.9 L610.3 1358.6 L612.3 1358.3 L614.3 1358.0 L616.3 1357.7 L618.3 1357.3 L620.3 1357.1 L622.3 1356.8 L624.3 1356.5 L626.3 1356.2 L628.3 1355.9 L630.3 1355.6 L632.3 1355.4 L634.3 1355.1 L636.3 1354.9 L638.3 1354.6 L640.3 1354.4 L642.3 1354.1 L644.3 1353.9 L646.3 1353.6 L648.3 1353.4 L650.3 1353.2 L652.3 1353.0 L654.3 1352.8 L656.3 1352.6 L658.3 1352.4 L660.3 1352.2 L662.3 1352.0 L664.3 1351.8 L666.3 1351.6 L668.3 1351.4 L670.3 1351.2 L672.3 1351.0 L674.3 1350.9 L676.3 1350.7 L678.3 1350.5 L680.3 1350.4 L682.3 1350.2 L684.3 1350.1 L686.3 1349.9 L688.3 1349.8 L690.3 1349.6 L692.3 1349.5 L694.3 1349.4 L696.3 1349.2 L698.3 1349.1 L700.3 1349.0 L702.3 1348.9 L704.3 1348.7 L706.3 1348.6 L708.3 1348.5 L710.3 1348.4 L712.3 1348.3 L714.3 1348.2 L716.3 1348.1 L718.3 1348.0 L720.3 1347.9 L722.3 1347.8 L724.3 1347.7 L726.3 1347.6 L728.3 1347.5 L730.3 1347.4 L732.3 1347.3 L734.3 1347.2 L736.3 1347.1 L738.3 1347.1 L740.3 1347.0 L742.3 1346.9 L744.3 1346.8 L746.3 1346.7 L748.3 1346.7 L750.3 1346.6 L752.3 1346.5 L754.3 1346.5 L756.3 1346.4 L758.3 1346.3 L760.3 1346.2 L762.3 1346.2 L764.3 1346.1 L766.3 1346.0 L768.3 1346.0 L770.3 1345.9 L772.3 1345.9 L774.3 1345.8 L776.3 1345.7 L778.3 1345.7 L780.3 1345.6 L782.3 1345.5 L784.3 1345.5 L786.3 1345.4 L788.3 1345.4 L790.3 1345.3 L792.3 1345.2 L794.3 1345.2 L796.3 1345.1 L798.3 1345.0 L800.3 1345.0 L802.3 1344.9 L804.3 1344.9 L806.3 1344.8 L808.3 1344.7 L810.3 1344.7 L812.3 1344.6 L814.3 1344.5 L816.3 1344.5 L818.3 1344.4 L820.3 1344.3 L822.3 1344.2 L824.3 1344.2 L826.3 1344.1 L828.3 1344.0 L830.3 1343.9 L832.3 1343.9 L834.3 1343.8 L836.3 1343.7 L838.3 1343.6 L840.3 1343.5 L842.3 1343.4 L844.3 1343.3 L846.3 1343.3 L848.3 1343.2 L850.3 1343.1 L852.3 1343.0 L854.3 1342.9 L856.3 1342.8 L858.3 1342.7 L860.3 1342.6 L862.3 1342.4 L864.3 1342.3 L866.3 1342.2 L868.3 1342.1 L870.3 1342.0 L872.3 1341.9 L873.1 1341.8" fill="none" stroke="#00b050" stroke-width="3.70" stroke-linecap="butt" stroke-linejoin="round" stroke-dasharray="10 4.2"/>
<path d="M70.2 1635.0 L72.0 1634.5 L73.2 1634.2 L74.6 1633.8 L76.0 1633.4 L77.4 1633.0 L78.9 1632.6 L80.3 1632.2 L81.8 1631.8 L83.2 1631.4 L84.7 1631.0 L86.1 1630.7 L87.6 1630.3 L89.0 1629.9 L90.5 1629.4 L91.9 1629.0 L93.4 1628.6 L94.8 1628.2 L96.2 1627.8 L97.7 1627.4 L99.1 1627.0 L100.6 1626.6 L102.0 1626.1 L103.4 1625.7 L104.9 1625.2 L106.3 1624.8 L107.7 1624.3 L109.2 1623.8 L110.6 1623.3 L112.0 1622.8 L113.4 1622.2 L114.7 1621.6 L116.1 1621.0 L117.5 1620.4 L118.9 1619.8 L120.2 1619.2 L121.6 1618.5 L122.9 1617.9 L124.3 1617.2 L125.6 1616.5 L127.0 1615.9 L128.3 1615.2 L129.6 1614.5 L131.0 1613.9 L132.3 1613.2 L133.7 1612.5 L135.0 1611.8 L136.3 1611.1 L137.6 1610.3 L138.9 1609.5 L140.1 1608.7 L141.3 1607.8 L142.5 1606.9 L143.7 1606.0 L144.9 1605.0 L146.0 1604.1 L147.2 1603.1 L148.3 1602.1 L149.4 1601.0 L150.4 1600.0 L151.5 1599.0 L152.6 1597.9 L153.6 1596.8 L154.6 1595.7 L155.6 1594.6 L156.6 1593.5 L157.6 1592.3 L158.6 1591.2 L159.6 1590.1 L160.6 1588.9 L161.5 1587.8 L162.5 1586.6 L163.4 1585.4 L164.3 1584.3 L165.2 1583.1 L166.2 1581.9 L167.1 1580.7 L168.0 1579.5 L169.0 1578.4 L170.0 1577.3 L171.0 1576.1 L172.0 1575.0 L173.0 1573.9 L174.1 1572.9 L175.1 1571.8 L176.2 1570.7 L177.3 1569.7 L178.3 1568.6 L179.4 1567.6 L180.5 1566.6 L181.6 1565.5 L182.7 1564.5 L183.9 1563.5 L185.0 1562.5 L186.1 1561.6 L187.3 1560.6 L188.4 1559.6 L189.6 1558.7 L190.7 1557.7 L191.9 1556.8 L193.1 1555.8 L194.3 1554.9 L195.4 1554.0 L196.6 1553.1 L197.8 1552.2 L199.0 1551.3 L200.2 1550.4 L201.4 1549.5 L202.6 1548.6 L203.8 1547.6 L205.0 1546.7 L206.2 1545.8 L207.3 1544.8 L208.5 1543.9 L209.7 1543.0 L210.9 1542.0 L212.0 1541.1 L213.2 1540.1 L214.4 1539.2 L215.5 1538.3 L216.7 1537.3 L217.9 1536.4 L219.1 1535.5 L220.3 1534.6 L221.5 1533.7 L222.7 1532.8 L223.9 1531.8 L225.1 1530.9 L226.3 1530.1 L227.5 1529.2 L228.7 1528.3 L229.9 1527.4 L231.1 1526.5 L232.3 1525.6 L233.5 1524.7 L234.7 1523.8 L235.9 1522.9 L237.2 1522.1 L238.4 1521.2 L239.6 1520.3 L240.8 1519.5 L242.1 1518.6 L243.3 1517.7 L244.5 1516.9 L245.8 1516.1 L247.1 1515.3 L248.3 1514.5 L249.6 1513.7 L250.9 1512.9 L252.2 1512.2 L253.5 1511.5 L254.8 1510.8 L256.2 1510.1 L257.5 1509.4 L258.9 1508.7 L260.2 1508.1 L261.6 1507.4 L263.0 1506.8 L264.3 1506.2 L265.7 1505.7 L267.1 1505.1 L268.5 1504.6 L269.9 1504.1 L271.4 1503.6 L272.8 1503.1 L274.2 1502.7 L275.7 1502.3 L277.1 1501.8 L278.5 1501.4 L280.0 1501.1 L281.5 1500.7 L282.9 1500.4 L284.4 1500.1 L285.9 1499.8 L287.3 1499.6 L288.8 1499.4 L290.3 1499.4 L291.8 1499.3 L293.3 1499.4 L294.8 1499.4 L296.3 1499.5 L297.8 1499.7 L299.3 1499.8 L300.8 1500.0 L302.3 1500.1 L303.8 1500.3 L305.3 1500.6 L306.8 1500.8 L308.2 1501.1 L309.7 1501.4 L311.2 1501.7 L312.6 1502.1 L314.0 1502.5 L315.5 1503.0 L316.9 1503.5 L318.2 1504.1 L319.6 1504.8 L320.9 1505.4 L322.2 1506.2 L323.6 1506.9 L324.9 1507.6 L326.2 1508.4 L327.5 1509.1 L328.8 1509.8 L330.1 1510.5 L331.5 1511.2 L332.8 1511.9 L334.1 1512.6 L335.4 1513.3 L336.8 1514.0 L338.1 1514.8 L339.4 1515.5 L340.7 1516.3 L341.9 1517.1 L343.2 1517.9 L344.4 1518.7 L345.7 1519.6 L346.9 1520.4 L348.1 1521.3 L349.3 1522.2 L350.6 1523.1 L351.8 1524.0 L353.0 1524.8 L354.2 1525.7 L355.4 1526.6 L356.6 1527.5 L357.9 1528.3 L359.1 1529.2 L360.4 1530.0 L361.6 1530.8 L362.9 1531.6 L364.2 1532.4 L365.5 1533.2 L366.7 1534.0 L368.0 1534.7 L369.3 1535.5 L370.6 1536.3 L371.9 1537.0 L373.2 1537.7 L374.6 1538.4 L375.9 1539.0 L377.3 1539.7 L378.7 1540.2 L380.1 1540.8 L381.5 1541.3 L382.9 1541.7 L384.4 1542.1 L385.8 1542.5 L387.3 1542.8 L388.8 1543.1 L390.2 1543.3 L391.7 1543.4 L393.2 1543.4 L394.7 1543.3 L396.2 1543.2 L397.7 1543.0 L399.2 1542.8 L400.6 1542.4 L402.1 1542.1 L403.5 1541.7 L405.0 1541.2 L406.4 1540.7 L407.8 1540.2 L409.2 1539.7 L410.6 1539.2 L412.0 1538.6 L413.4 1538.1 L414.8 1537.5 L416.2 1537.0 L417.6 1536.5 L419.0 1535.9 L420.4 1535.4 L421.8 1534.8 L423.2 1534.2 L424.6 1533.7 L426.0 1533.1 L427.4 1532.5 L428.7 1531.9 L430.1 1531.3 L431.5 1530.7 L432.8 1530.1 L434.2 1529.4 L435.6 1528.8 L436.9 1528.1 L438.3 1527.5 L439.6 1526.8 L440.9 1526.1 L442.3 1525.4 L443.6 1524.7 L444.9 1524.0 L446.2 1523.3 L447.6 1522.6 L448.9 1521.9 L450.2 1521.1 L451.5 1520.3 L452.7 1519.5 L454.0 1518.7 L455.2 1517.8 L456.3 1516.9 L457.5 1515.9 L458.5 1514.8 L459.5 1513.7 L460.5 1512.6 L461.4 1511.3 L462.2 1510.1 L462.9 1508.8 L463.6 1507.5 L464.3 1506.1 L464.9 1504.8 L465.6 1503.4 L466.2 1502.1 L466.9 1500.7 L467.5 1499.3 L468.2 1498.0 L468.8 1496.6 L469.4 1495.3 L470.0 1493.9 L470.5 1492.5 L471.0 1491.1 L471.6 1489.7 L472.2 1488.3 L472.8 1486.9 L473.5 1485.6 L474.2 1484.3 L475.0 1483.0 L475.9 1481.8 L476.8 1480.7 L477.8 1479.6 L478.9 1478.5 L480.0 1477.5 L481.2 1476.6 L482.4 1475.7 L483.6 1474.8 L484.9 1474.0 L486.1 1473.1 L487.4 1472.3 L488.7 1471.6 L490.0 1470.8 L491.3 1470.0 L492.6 1469.3 L493.9 1468.6 L495.2 1467.8 L496.5 1467.1 L497.8 1466.4 L499.1 1465.7 L500.5 1465.0 L501.8 1464.3 L503.2 1463.7 L504.5 1463.0 L505.9 1462.4 L507.3 1461.8 L508.6 1461.2 L510.0 1460.6 L511.4 1460.0 L512.8 1459.4 L514.2 1458.8 L515.5 1458.2 L516.9 1457.7 L518.3 1457.1 L519.7 1456.5 L521.1 1455.9 L522.5 1455.3 L523.9 1454.8 L525.2 1454.2 L526.6 1453.6 L528.0 1453.0 L529.4 1452.5 L530.8 1451.9 L532.2 1451.4 L533.6 1450.8 L535.0 1450.3 L536.4 1449.7 L537.8 1449.2 L539.2 1448.6 L540.6 1448.1 L542.0 1447.6 L543.4 1447.1 L544.8 1446.6 L546.2 1446.0 L547.6 1445.6 L549.1 1445.1 L550.5 1444.6 L551.9 1444.1 L553.3 1443.6 L554.8 1443.2 L556.2 1442.7 L557.6 1442.3 L559.1 1441.8 L560.5 1441.3 L561.9 1440.9 L563.3 1440.4 L564.8 1439.9 L566.2 1439.4 L567.6 1438.8 L568.9 1438.3 L570.3 1437.7 L571.7 1437.1 L573.1 1436.5 L574.5 1436.0 L575.9 1435.7 L577.4 1435.4 L578.9 1435.4 L580.4 1435.4 L581.8 1435.7 L583.3 1436.0 L584.7 1436.4 L586.1 1436.9 L587.5 1437.6 L588.8 1438.3 L590.0 1439.1 L591.2 1440.0 L592.4 1440.9 L593.5 1442.0 L594.5 1443.0 L595.5 1444.1 L596.5 1445.3 L597.4 1446.5 L598.3 1447.7 L599.2 1448.9 L600.1 1450.1 L600.9 1451.3 L601.8 1452.6 L602.6 1453.8 L603.5 1455.1 L604.3 1456.3 L605.2 1457.6 L606.0 1458.8 L606.9 1460.0 L607.7 1461.3 L608.6 1462.5 L609.4 1463.7 L610.3 1465.0 L611.1 1466.2 L612.0 1467.5 L612.8 1468.7 L613.6 1469.9 L614.5 1471.2 L615.3 1472.5 L616.1 1473.7 L616.9 1475.0 L617.7 1476.2 L618.6 1477.5 L619.4 1478.7 L620.2 1480.0 L621.0 1481.3 L621.8 1482.6 L622.5 1483.8 L623.3 1485.1 L624.0 1486.4 L624.8 1487.8 L625.5 1489.1 L626.3 1490.4 L627.0 1491.7 L627.8 1492.9 L628.6 1494.2 L629.5 1495.4 L630.3 1496.7 L631.3 1497.8 L632.2 1499.0 L633.2 1500.1 L634.3 1501.1 L635.4 1502.2 L636.5 1503.2 L637.6 1504.2 L638.8 1505.2 L639.9 1506.1 L641.1 1507.0 L642.3 1507.9 L643.6 1508.7 L644.8 1509.6 L646.1 1510.3 L647.4 1511.1 L648.7 1511.8 L650.1 1512.4 L651.5 1513.0 L652.9 1513.4 L654.3 1513.6 L655.8 1513.6 L657.2 1513.4 L658.6 1513.0 L660.0 1512.4 L661.3 1511.7 L662.6 1510.8 L663.8 1510.0 L664.9 1509.0 L666.1 1508.1 L667.2 1507.1 L668.3 1506.1 L669.4 1505.1 L670.5 1504.0 L671.6 1503.0 L672.8 1502.0 L673.9 1501.0 L675.0 1500.0 L676.1 1499.0 L677.3 1498.1 L678.4 1497.1 L679.6 1496.2 L680.8 1495.2 L682.0 1494.3 L683.1 1493.4 L684.3 1492.5 L685.5 1491.6 L686.7 1490.6 L687.9 1489.7 L689.1 1488.8 L690.3 1487.9 L691.5 1487.1 L692.8 1486.2 L694.0 1485.3 L695.2 1484.5 L696.5 1483.7 L697.7 1482.8 L699.0 1482.0 L700.3 1481.2 L701.5 1480.4 L702.8 1479.6 L704.1 1478.9 L705.4 1478.1 L706.7 1477.4 L708.1 1476.8 L709.5 1476.1 L710.8 1475.6 L712.2 1475.0 L713.6 1474.5 L715.1 1474.1 L716.5 1473.7 L718.0 1473.3 L719.4 1473.0 L720.9 1472.7 L722.4 1472.5 L723.9 1472.3 L725.4 1472.2 L726.9 1472.2 L728.4 1472.2 L729.9 1472.3 L731.4 1472.4 L732.9 1472.6 L734.3 1472.8 L735.8 1473.1 L737.3 1473.4 L738.8 1473.7 L740.2 1473.9 L741.7 1474.2 L743.2 1474.6 L744.6 1474.9 L746.1 1475.3 L747.5 1475.7 L749.0 1476.1 L750.4 1476.5 L751.9 1476.9 L753.3 1477.1 L754.8 1477.4 L756.3 1477.5 L757.8 1477.5 L759.3 1477.4 L760.8 1477.3 L762.3 1477.0 L763.7 1476.8 L765.2 1476.4 L766.7 1476.1 L768.1 1475.7 L769.5 1475.2 L771.0 1474.8 L772.4 1474.3 L773.8 1473.8 L775.2 1473.3 L776.6 1472.7 L778.0 1472.1 L779.3 1471.4 L780.6 1470.7 L782.0 1470.0 L783.3 1469.3 L784.6 1468.5 L785.9 1467.8 L787.2 1467.1 L788.5 1466.4 L789.9 1465.7 L791.3 1465.1 L792.6 1464.6 L794.0 1464.0 L795.5 1463.5 L796.9 1463.1 L798.3 1462.6 L799.8 1462.2 L801.2 1461.8 L802.7 1461.4 L804.1 1461.1 L805.6 1460.8 L807.1 1460.5 L808.5 1460.3 L810.0 1460.1 L811.5 1460.0 L813.0 1460.0 L814.5 1460.0 L816.0 1460.1 L817.5 1460.2 L819.0 1460.4 L820.5 1460.6 L822.0 1460.9 L823.4 1461.3 L824.9 1461.6 L826.3 1462.0 L827.8 1462.4 L829.2 1462.9 L830.6 1463.4 L832.0 1463.9 L833.4 1464.4 L834.8 1465.0 L836.2 1465.6 L837.5 1466.3 L838.8 1467.0 L840.1 1467.8 L841.4 1468.5 L842.7 1469.3 L844.0 1470.1 L845.3 1470.9 L846.5 1471.7 L847.8 1472.5 L849.1 1473.2 L850.4 1474.0 L851.7 1474.7 L853.0 1475.4 L854.3 1476.2 L855.7 1476.9 L857.0 1477.6 L858.3 1478.3 L859.6 1479.0 L861.0 1479.7 L862.3 1480.4 L863.6 1481.1 L864.9 1481.8 L866.0 1482.3 L867.6 1483.2" fill="none" stroke="#000" stroke-width="3.30" stroke-linecap="butt" stroke-linejoin="round" stroke-dasharray="3.3 3.5"/>
<path d="M664.4 1361.2 L665.8 1362.4 L666.7 1363.3 L667.8 1364.2 L668.9 1365.2 L669.9 1366.3 L670.9 1367.4 L671.8 1368.6 L672.6 1369.9 L673.4 1371.2 L674.0 1372.5 L674.6 1373.9 L675.2 1375.3 L675.7 1376.7 L676.2 1378.1 L676.6 1379.6 L677.1 1381.0 L677.5 1382.5 L677.8 1383.9 L678.2 1385.4 L678.6 1386.8 L679.0 1388.3 L679.3 1389.7 L679.6 1391.2 L680.0 1392.7 L680.3 1394.2 L680.6 1395.6 L680.8 1397.1 L681.1 1398.6 L681.4 1400.1 L681.6 1401.6 L681.9 1403.0 L682.1 1404.5 L682.3 1406.0 L682.6 1407.5 L682.8 1409.0 L683.1 1410.5 L683.3 1411.9 L683.6 1413.4 L683.9 1414.9 L684.1 1416.4 L684.4 1417.9 L684.7 1419.3 L684.9 1420.8 L685.1 1422.3 L685.4 1423.8 L685.6 1425.3 L685.9 1426.8 L686.1 1428.3 L686.4 1429.7 L686.7 1431.2 L687.0 1432.7 L687.4 1434.1 L687.8 1435.6 L688.3 1437.0 L688.9 1438.4 L689.5 1439.7 L690.2 1441.1 L691.0 1442.3 L691.9 1443.5 L692.9 1444.6 L694.0 1445.7 L695.1 1446.7 L696.3 1447.6 L697.4 1448.6 L698.7 1449.4 L699.9 1450.3 L701.2 1451.1 L702.4 1451.9 L703.7 1452.6 L705.1 1453.4 L706.4 1454.1 L707.7 1454.8 L709.0 1455.5 L710.4 1456.2 L711.7 1456.9 L713.1 1457.5 L714.4 1458.2 L715.7 1458.9 L717.1 1459.6 L718.4 1460.4 L719.7 1461.1 L721.0 1461.8 L722.3 1462.5 L723.7 1463.2 L725.0 1463.9 L726.3 1464.6 L727.7 1465.3 L729.1 1465.9 L730.5 1466.5 L731.8 1467.0 L733.3 1467.6 L734.7 1468.1 L736.1 1468.5 L737.5 1469.0 L739.0 1469.5 L740.4 1469.9 L741.8 1470.3 L743.3 1470.7 L744.7 1471.1 L746.2 1471.4 L747.7 1471.8 L749.2 1472.0 L750.6 1472.3 L752.1 1472.5 L753.6 1472.6 L755.1 1472.7 L756.6 1472.8 L758.1 1472.7 L759.6 1472.7 L761.1 1472.5 L762.6 1472.3 L764.1 1472.1 L765.6 1471.9 L767.1 1471.6 L768.5 1471.3 L770.0 1471.0 L771.5 1470.7 L772.9 1470.3 L774.4 1470.0 L775.9 1469.6 L777.3 1469.3 L778.8 1468.9 L780.2 1468.5 L781.7 1468.1 L783.1 1467.6 L784.6 1467.2 L786.0 1466.7 L787.4 1466.2 L788.8 1465.7 L790.2 1465.2 L791.7 1464.8 L793.1 1464.3 L794.6 1463.9 L796.0 1463.6 L797.5 1463.3 L799.0 1463.0 L800.5 1462.8 L802.0 1462.6 L803.5 1462.5 L805.0 1462.4 L806.5 1462.3 L808.0 1462.3 L809.5 1462.3 L811.0 1462.4 L812.5 1462.5 L814.0 1462.7 L815.4 1462.9 L816.9 1463.1 L818.4 1463.4 L819.9 1463.7 L821.3 1464.0 L822.8 1464.4 L824.2 1464.8 L825.7 1465.2 L827.1 1465.6 L828.6 1466.1 L830.0 1466.5 L831.5 1466.9 L832.9 1467.4 L834.3 1467.8 L835.8 1468.3 L837.2 1468.7 L838.7 1469.1 L840.1 1469.5 L841.5 1470.0 L843.0 1470.4 L844.4 1470.9 L845.8 1471.4 L847.3 1471.8 L848.7 1472.3 L850.1 1472.7 L851.6 1473.2 L853.0 1473.6 L854.5 1474.0 L855.9 1474.4 L857.4 1474.8 L858.8 1475.2 L860.3 1475.6 L861.7 1475.9 L863.2 1476.3 L864.7 1476.6 L866.1 1476.9 L867.6 1477.3 L869.0 1477.6 L870.2 1477.9 L872.0 1478.3" fill="none" stroke="#f0909a" stroke-width="3.00" stroke-linecap="round" stroke-linejoin="round"/>
<path d="M68.3 1635.0 L70.4 1634.2 L71.5 1633.8 L72.7 1633.4 L74.0 1632.9 L75.3 1632.3 L76.7 1631.8 L78.1 1631.3 L79.5 1630.8 L80.9 1630.2 L82.3 1629.7 L83.7 1629.2 L85.1 1628.6 L86.5 1628.1 L87.9 1627.5 L89.3 1627.0 L90.7 1626.4 L92.1 1625.9 L93.5 1625.3 L94.9 1624.8 L96.3 1624.2 L97.7 1623.7 L99.1 1623.1 L100.5 1622.6 L101.9 1622.0 L103.3 1621.4 L104.7 1620.8 L106.0 1620.2 L107.4 1619.6 L108.7 1618.9 L110.0 1618.1 L111.3 1617.4 L112.6 1616.6 L113.8 1615.8 L115.1 1615.0 L116.4 1614.2 L117.6 1613.4 L118.9 1612.5 L120.1 1611.6 L121.3 1610.7 L122.4 1609.8 L123.6 1608.9 L124.7 1607.9 L125.8 1606.9 L126.9 1605.8 L128.0 1604.8 L129.0 1603.7 L130.0 1602.5 L130.9 1601.4 L131.8 1600.2 L132.7 1598.9 L133.5 1597.7 L134.3 1596.4 L135.1 1595.2 L135.9 1593.9 L136.6 1592.6 L137.4 1591.3 L138.1 1590.0 L138.8 1588.7 L139.6 1587.4 L140.3 1586.0 L141.1 1584.8 L141.8 1583.5 L142.6 1582.2 L143.5 1581.0 L144.3 1579.7 L145.2 1578.5 L146.1 1577.3 L147.1 1576.1 L148.0 1575.0 L148.9 1573.8 L149.9 1572.7 L150.9 1571.5 L151.9 1570.4 L152.8 1569.2 L153.8 1568.1 L154.8 1567.0 L155.8 1565.9 L156.8 1564.8 L157.8 1563.6 L158.8 1562.5 L159.8 1561.4 L160.8 1560.3 L161.8 1559.1 L162.8 1558.0 L163.8 1556.9 L164.8 1555.8 L165.8 1554.7 L166.9 1553.6 L167.9 1552.5 L169.0 1551.5 L170.1 1550.4 L171.2 1549.4 L172.3 1548.4 L173.4 1547.4 L174.5 1546.4 L175.6 1545.4 L176.8 1544.4 L177.9 1543.5 L179.1 1542.6 L180.3 1541.6 L181.5 1540.8 L182.7 1539.9 L184.0 1539.0 L185.2 1538.2 L186.4 1537.3 L187.7 1536.5 L188.9 1535.6 L190.1 1534.7 L191.3 1533.8 L192.5 1532.9 L193.7 1532.0 L194.9 1531.1 L196.1 1530.2 L197.3 1529.3 L198.5 1528.4 L199.7 1527.5 L200.9 1526.7 L202.2 1525.8 L203.5 1525.0 L204.7 1524.3 L206.0 1523.5 L207.3 1522.7 L208.6 1522.0 L209.9 1521.2 L211.2 1520.5 L212.5 1519.7 L213.8 1519.0 L215.1 1518.3 L216.4 1517.5 L217.8 1516.8 L219.1 1516.1 L220.4 1515.4 L221.7 1514.7 L223.1 1514.0 L224.4 1513.3 L225.7 1512.6 L227.1 1511.9 L228.4 1511.2 L229.7 1510.5 L231.1 1509.9 L232.4 1509.2 L233.7 1508.5 L235.1 1507.8 L236.4 1507.1 L237.7 1506.4 L239.1 1505.7 L240.4 1505.0 L241.7 1504.3 L243.0 1503.6 L244.3 1502.8 L245.6 1502.1 L246.9 1501.3 L248.2 1500.6 L249.5 1499.8 L250.8 1499.0 L252.1 1498.2 L253.3 1497.4 L254.6 1496.6 L255.8 1495.7 L257.1 1494.9 L258.3 1494.1 L259.6 1493.3 L260.8 1492.4 L262.1 1491.6 L263.3 1490.7 L264.5 1489.9 L265.8 1489.0 L267.0 1488.2 L268.2 1487.3 L269.5 1486.5 L270.7 1485.6 L271.9 1484.7 L273.1 1483.8 L274.3 1482.9 L275.5 1481.9 L276.6 1481.0 L277.8 1480.1 L279.0 1479.1 L280.1 1478.2 L281.3 1477.2 L282.5 1476.3 L283.6 1475.4 L284.8 1474.4 L286.0 1473.5 L287.2 1472.5 L288.3 1471.6 L289.5 1470.6 L290.7 1469.7 L291.8 1468.8 L293.0 1467.8 L294.2 1466.9 L295.4 1466.0 L296.5 1465.0 L297.7 1464.1 L298.9 1463.2 L300.1 1462.3 L301.3 1461.4 L302.5 1460.4 L303.7 1459.5 L304.9 1458.6 L306.1 1457.8 L307.3 1456.9 L308.5 1456.0 L309.8 1455.2 L311.0 1454.3 L312.3 1453.5 L313.5 1452.7 L314.8 1451.9 L316.1 1451.1 L317.3 1450.3 L318.6 1449.5 L319.9 1448.7 L321.1 1447.8 L322.4 1447.0 L323.6 1446.2 L324.9 1445.4 L326.2 1444.6 L327.5 1443.9 L328.8 1443.2 L330.1 1442.5 L331.5 1441.9 L332.9 1441.3 L334.3 1440.7 L335.7 1440.2 L337.1 1439.7 L338.5 1439.2 L339.9 1438.7 L341.4 1438.3 L342.8 1437.8 L344.2 1437.4 L345.7 1437.0 L347.1 1436.6 L348.6 1436.2 L350.0 1435.8 L351.4 1435.4 L352.9 1435.0 L354.4 1434.6 L355.8 1434.2 L357.3 1433.9 L358.7 1433.5 L360.2 1433.1 L361.6 1432.8 L363.1 1432.4 L364.5 1432.0 L366.0 1431.7 L367.5 1431.3 L368.9 1431.0 L370.4 1430.7 L371.8 1430.3 L373.3 1430.0 L374.8 1429.7 L376.2 1429.3 L377.7 1429.0 L379.2 1428.7 L380.6 1428.4 L382.1 1428.1 L383.6 1427.8 L385.1 1427.5 L386.5 1427.2 L388.0 1427.0 L389.5 1426.7 L391.0 1426.4 L392.4 1426.1 L393.9 1425.8 L395.4 1425.5 L396.8 1425.1 L398.3 1424.8 L399.7 1424.4 L401.2 1424.1 L402.7 1423.7 L404.1 1423.3 L405.6 1423.0 L407.0 1422.5 L408.4 1422.1 L409.9 1421.7 L411.3 1421.2 L412.7 1420.7 L414.1 1420.2 L415.5 1419.7 L416.9 1419.1 L418.3 1418.5 L419.6 1417.8 L420.9 1417.1 L422.2 1416.4 L423.5 1415.6 L424.8 1414.9 L426.1 1414.1 L427.4 1413.3 L428.7 1412.5 L430.0 1411.7 L431.2 1411.0 L432.5 1410.2 L433.8 1409.4 L435.1 1408.7 L436.4 1407.9 L437.7 1407.2 L439.0 1406.4 L440.3 1405.7 L441.6 1404.9 L442.9 1404.2 L444.2 1403.4 L445.5 1402.7 L446.9 1402.0 L448.2 1401.3 L449.5 1400.5 L450.8 1399.8 L452.2 1399.2 L453.5 1398.5 L454.8 1397.8 L456.2 1397.2 L457.6 1396.6 L458.9 1396.0 L460.3 1395.4 L461.7 1394.9 L463.1 1394.4 L464.6 1394.0 L466.0 1393.6 L467.5 1393.3 L469.0 1393.0 L470.4 1392.8 L471.9 1392.6 L473.4 1392.4 L474.9 1392.3 L476.4 1392.2 L477.9 1392.1 L479.4 1392.1 L480.9 1392.1 L482.4 1392.1 L483.9 1392.1 L485.4 1392.1 L486.9 1392.1 L488.4 1392.1 L489.9 1392.0 L491.4 1391.8 L492.8 1391.6 L494.3 1391.2 L495.7 1390.8 L497.1 1390.3 L498.5 1389.7 L499.8 1389.1 L501.1 1388.4 L502.4 1387.6 L503.7 1386.9 L505.0 1386.1 L506.2 1385.2 L507.5 1384.4 L508.7 1383.5 L510.0 1382.7 L511.2 1381.8 L512.4 1381.0 L513.7 1380.2 L515.0 1379.4 L516.3 1378.7 L517.6 1378.0 L519.0 1377.4 L520.4 1376.8 L521.8 1376.3 L523.2 1375.8 L524.6 1375.4 L526.1 1375.0 L527.5 1374.7 L529.0 1374.3 L530.5 1374.0 L531.9 1373.7 L533.4 1373.5 L534.9 1373.2 L536.4 1373.0 L537.8 1372.7 L539.3 1372.5 L540.8 1372.4 L542.3 1372.2 L543.8 1372.0 L545.3 1371.9 L546.8 1371.8 L548.3 1371.7 L549.8 1371.5 L551.3 1371.4 L552.8 1371.3 L554.3 1371.2 L555.8 1371.0 L557.3 1370.8 L558.7 1370.7 L560.2 1370.5 L561.7 1370.2 L563.2 1370.0 L564.7 1369.8 L566.2 1369.5 L567.6 1369.2 L569.1 1369.0 L570.6 1368.7 L572.1 1368.4 L573.5 1368.1 L575.0 1367.8 L576.5 1367.4 L577.9 1367.1 L579.4 1366.8 L580.8 1366.4 L582.3 1366.0 L583.7 1365.6 L585.2 1365.2 L586.6 1364.8 L588.1 1364.4 L589.5 1363.9 L590.9 1363.4 L592.3 1362.9 L593.7 1362.4 L595.1 1361.9 L596.6 1361.4 L598.0 1360.9 L599.4 1360.4 L600.8 1360.0 L602.3 1359.5 L603.7 1359.1 L605.1 1358.6 L606.6 1358.2 L608.0 1357.8 L609.5 1357.4 L610.9 1357.0 L612.4 1356.6 L613.8 1356.3 L615.3 1356.0 L616.7 1355.7 L618.2 1355.4 L619.7 1355.2 L621.2 1355.0 L622.7 1354.9 L624.2 1354.8 L625.7 1354.8 L627.2 1354.8 L628.7 1354.8 L630.2 1354.8 L631.7 1354.9 L633.2 1355.0 L634.7 1355.1 L636.2 1355.2 L637.7 1355.3 L639.2 1355.5 L640.7 1355.6 L642.1 1355.8 L643.6 1355.9 L645.1 1356.1 L646.6 1356.4 L648.1 1356.6 L649.6 1356.8 L651.1 1357.1 L652.5 1357.4 L654.0 1357.6 L655.5 1358.0 L656.9 1358.3 L658.4 1358.7 L659.8 1359.1 L661.2 1359.6 L662.7 1360.0 L664.1 1360.5 L665.5 1360.9 L666.9 1361.3 L668.3 1361.6 L669.8 1361.8 L671.2 1361.7 L672.6 1361.5 L674.0 1361.1 L675.4 1360.6 L676.7 1360.1 L678.1 1359.5 L679.5 1358.9 L680.9 1358.3 L682.3 1357.8 L683.7 1357.2 L685.1 1356.7 L686.5 1356.2 L687.9 1355.8 L689.4 1355.3 L690.8 1354.8 L692.2 1354.4 L693.6 1353.9 L695.1 1353.4 L696.5 1353.0 L697.9 1352.5 L699.4 1352.1 L700.8 1351.7 L702.2 1351.2 L703.7 1350.8 L705.1 1350.4 L706.6 1350.0 L708.0 1349.6 L709.5 1349.2 L710.9 1348.8 L712.3 1348.4 L713.8 1348.0 L715.2 1347.6 L716.7 1347.2 L718.1 1346.8 L719.6 1346.5 L721.1 1346.1 L722.5 1345.8 L724.0 1345.5 L725.5 1345.2 L726.9 1344.9 L728.4 1344.6 L729.9 1344.4 L731.4 1344.2 L732.9 1344.0 L734.4 1343.8 L735.9 1343.7 L737.3 1343.6 L738.8 1343.5 L740.3 1343.4 L741.8 1343.4 L743.3 1343.4 L744.8 1343.4 L746.3 1343.4 L747.8 1343.5 L749.3 1343.6 L750.8 1343.7 L752.3 1343.9 L753.8 1344.1 L755.3 1344.3 L756.8 1344.5 L758.3 1344.8 L759.7 1345.1 L761.2 1345.4 L762.7 1345.7 L764.1 1346.1 L765.6 1346.5 L767.0 1346.9 L768.4 1347.3 L769.9 1347.8 L771.3 1348.3 L772.7 1348.8 L774.1 1349.2 L775.5 1349.7 L777.0 1350.2 L778.4 1350.6 L779.8 1351.0 L781.3 1351.5 L782.7 1351.9 L784.2 1352.3 L785.6 1352.7 L787.1 1353.1 L788.5 1353.5 L790.0 1353.8 L791.4 1354.2 L792.9 1354.5 L794.4 1354.8 L795.8 1355.1 L797.3 1355.4 L798.8 1355.6 L800.3 1355.8 L801.8 1356.0 L803.3 1356.2 L804.7 1356.4 L806.2 1356.5 L807.7 1356.6 L809.2 1356.6 L810.7 1356.7 L812.2 1356.6 L813.7 1356.6 L815.2 1356.4 L816.7 1356.2 L818.2 1356.0 L819.6 1355.7 L821.1 1355.3 L822.5 1354.8 L823.9 1354.3 L825.3 1353.7 L826.6 1353.1 L828.0 1352.4 L829.3 1351.7 L830.6 1351.0 L831.9 1350.2 L833.1 1349.4 L834.4 1348.6 L835.6 1347.8 L836.9 1346.9 L838.1 1346.1 L839.4 1345.3 L840.6 1344.5 L841.9 1343.7 L843.2 1342.9 L844.6 1342.2 L845.9 1341.6 L847.3 1341.0 L848.7 1340.4 L850.1 1339.9 L851.5 1339.5 L852.9 1339.0 L854.4 1338.6 L855.8 1338.3 L857.3 1337.9 L858.8 1337.6 L860.2 1337.3 L861.7 1337.1 L863.2 1336.8 L864.7 1336.6 L866.1 1336.4 L867.6 1336.2 L868.9 1336.0 L870.1 1335.9 L871.2 1335.7 L873.1 1335.5" fill="none" stroke="#0000e8" stroke-width="3.60" stroke-linecap="round" stroke-linejoin="round"/>
<text x="147.77" y="1419.10" font-size="22.30" fill="#111" font-weight="normal" textLength="108.17" lengthAdjust="spacingAndGlyphs">Target SPL</text>
<line x1="212.3" y1="1435.7" x2="249.2" y2="1479.6" stroke="#222" stroke-width="1.50" />
<polygon points="256.1,1487.9 242.8,1481.4 250.0,1480.7 252.0,1473.7" fill="#111"/>
<text x="318.91" y="1619.90" font-size="22.30" fill="#111" font-weight="normal" textLength="137.37" lengthAdjust="spacingAndGlyphs">Before control</text>
<line x1="387.7" y1="1600.9" x2="397.7" y2="1553.0" stroke="#222" stroke-width="1.50" />
<polygon points="399.9,1542.4 403.0,1556.8 398.0,1551.7 391.3,1554.4" fill="#111"/>
<text x="749.27" y="1411.70" font-size="22.30" fill="#111" font-weight="normal" textLength="127.63" lengthAdjust="spacingAndGlyphs">After additive</text>
<text x="884.67" y="1411.70" font-size="22.30" fill="#111" font-weight="normal" textLength="114.30" lengthAdjust="spacingAndGlyphs">ASP control</text>
<text x="820.83" y="1437.80" font-size="22.30" fill="#111" font-weight="normal" textLength="105.03" lengthAdjust="spacingAndGlyphs">(proposed)</text>
<line x1="818.1" y1="1392.2" x2="818.1" y2="1369.7" stroke="#222" stroke-width="1.50" />
<polygon points="818.1,1358.9 824.1,1372.4 818.1,1368.4 812.1,1372.4" fill="#111"/>
<text x="581.96" y="1577.80" font-size="22.30" fill="#111" font-weight="normal" textLength="217.19" lengthAdjust="spacingAndGlyphs">After pure ASP control</text>
<line x1="691.2" y1="1546.4" x2="699.0" y2="1461.8" stroke="#222" stroke-width="1.50" />
<polygon points="700.0,1451.0 704.7,1465.0 699.1,1460.4 692.8,1463.9" fill="#111"/>
<text x="530.6" y="1794.3" font-size="28.5" fill="#111">(<tspan font-weight="bold">c</tspan>)</text>
</svg></div>
</body></html>
